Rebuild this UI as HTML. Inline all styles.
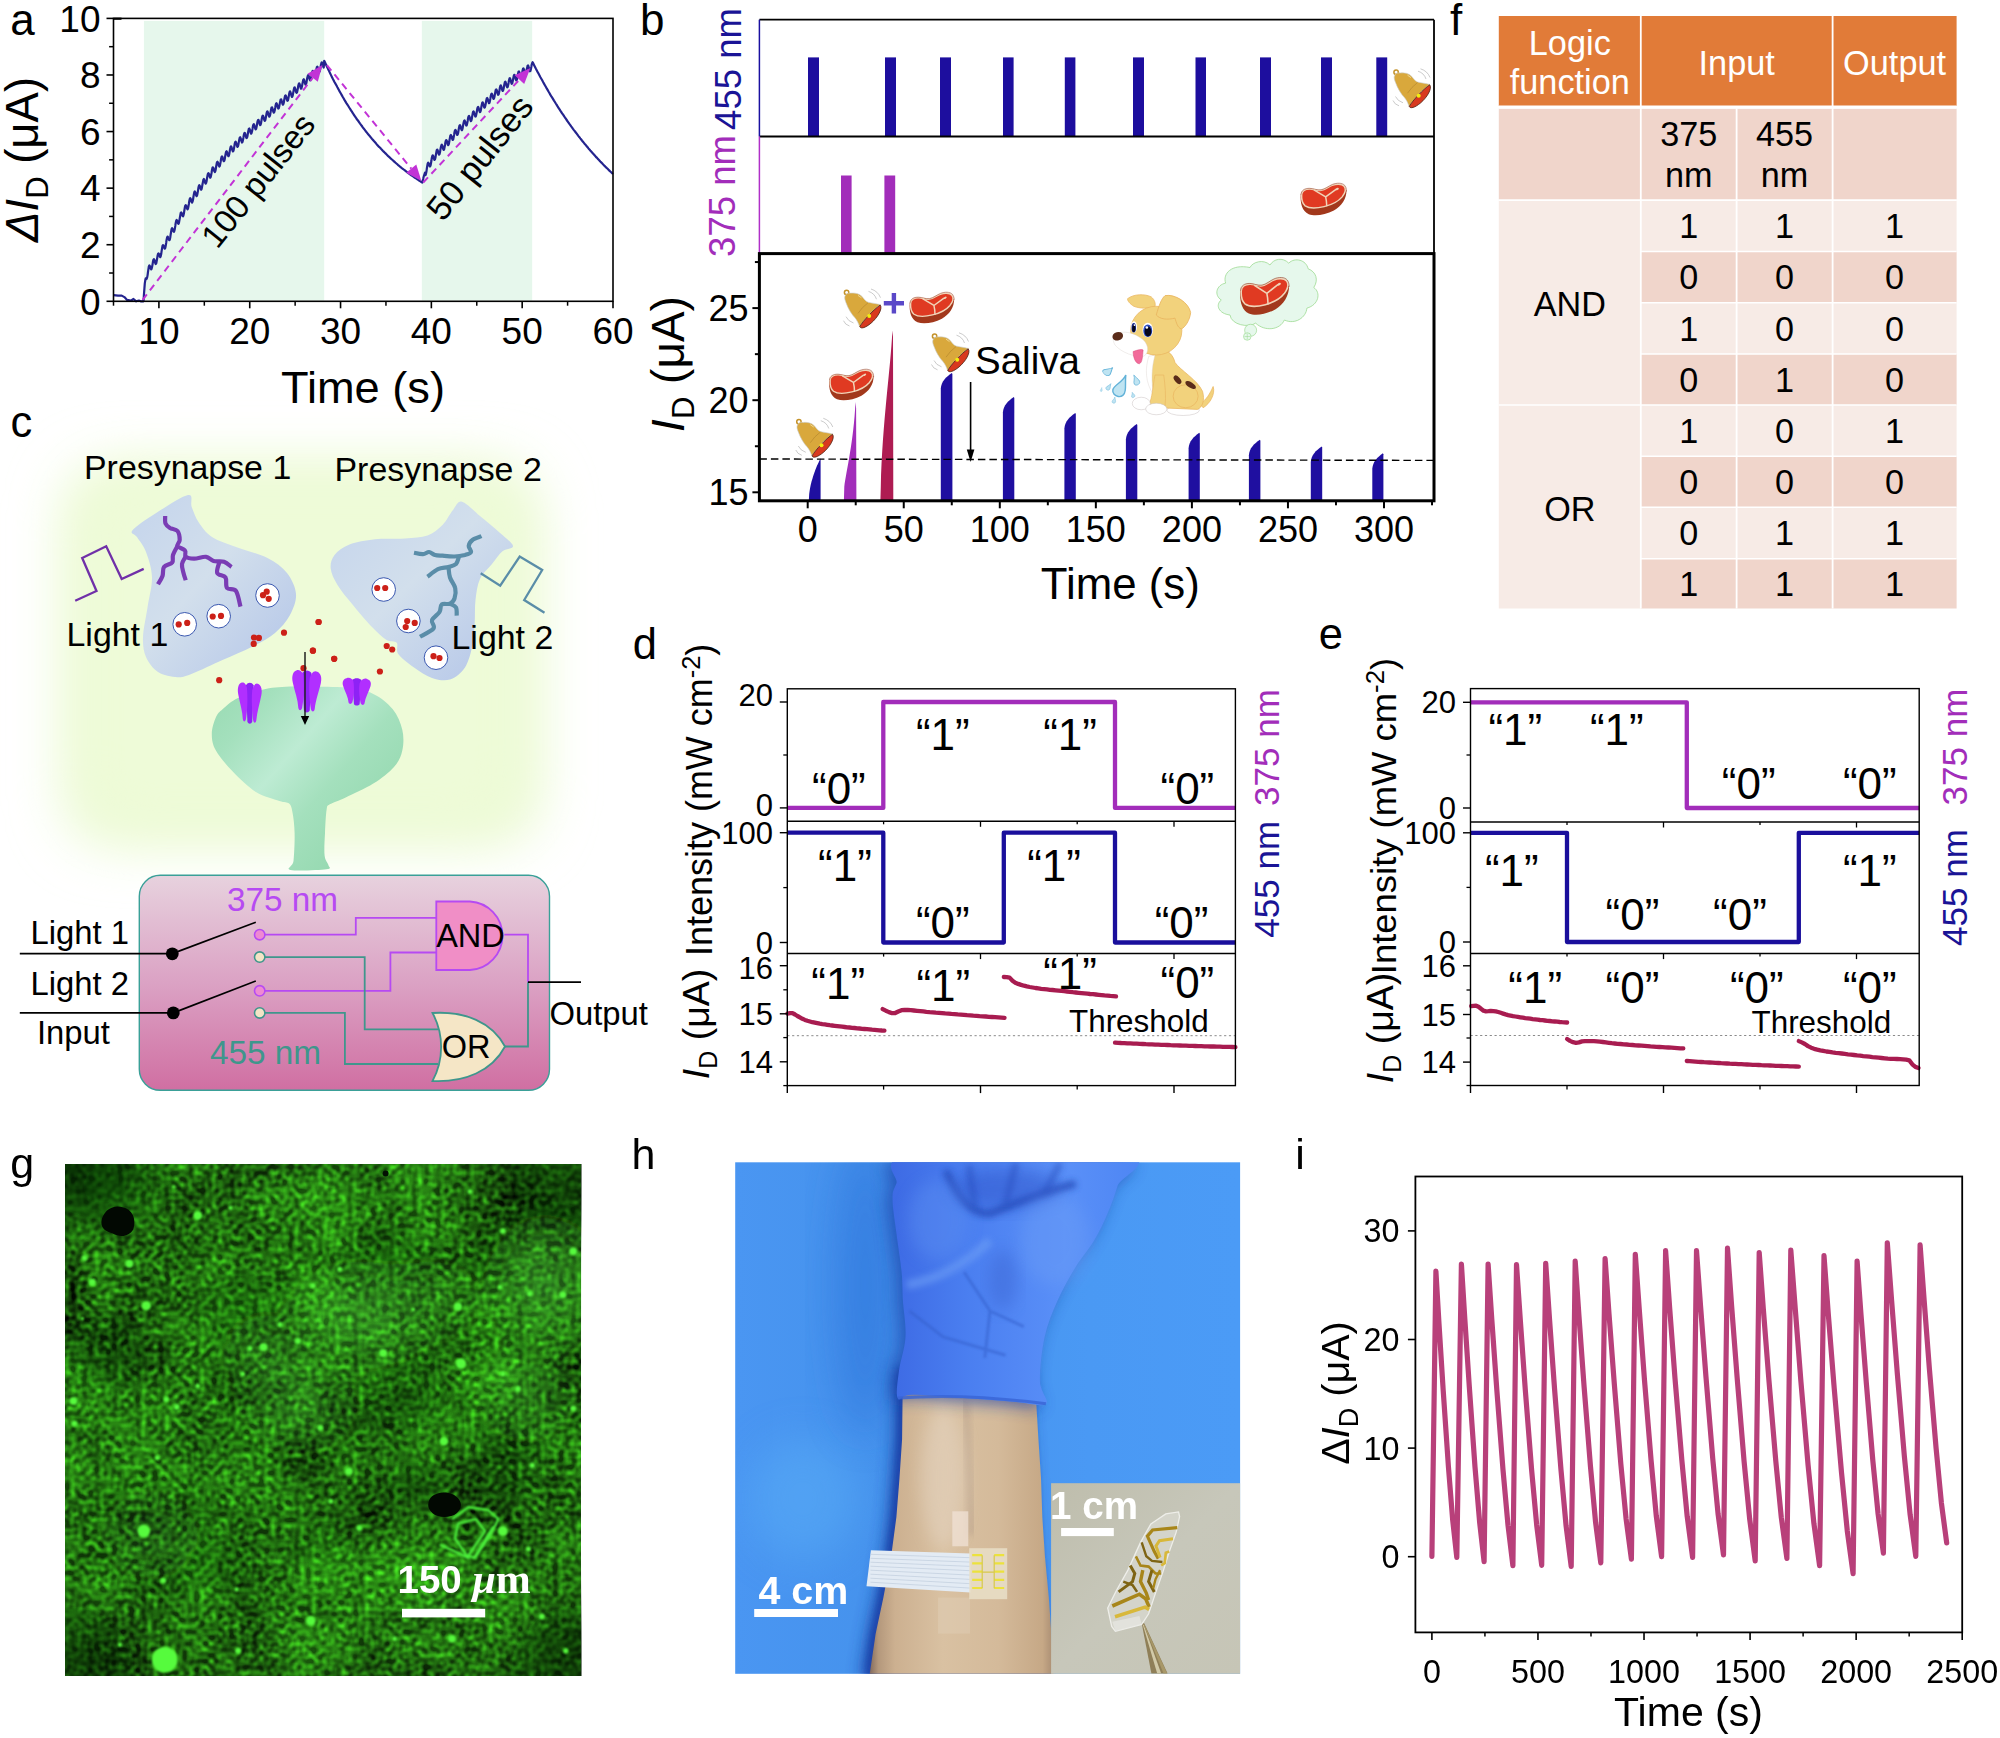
<!DOCTYPE html>
<html><head><meta charset="utf-8"><title>Figure</title>
<style>
html,body{margin:0;padding:0;background:#fff;}
body{width:2000px;height:1738px;overflow:hidden;position:relative;}
svg{position:absolute;left:0;top:0;display:block;}
text{font-family:"Liberation Sans",Arial,sans-serif;}
.it{font-style:italic;}
</style></head><body>
<svg width="2000" height="1738" viewBox="0 0 2000 1738">
<defs>

<filter id="cblur" x="-20%" y="-20%" width="140%" height="140%"><feGaussianBlur stdDeviation="26"/></filter>
<linearGradient id="preg" x1="0" y1="0" x2="1" y2="1"><stop offset="0" stop-color="#c4d4ec"/><stop offset="0.45" stop-color="#d2dfec"/><stop offset="1" stop-color="#b2c4e8"/></linearGradient>
<linearGradient id="postg" x1="0" y1="0" x2="1" y2="0.85"><stop offset="0" stop-color="#98dab2"/><stop offset="0.2" stop-color="#a4e0bd"/><stop offset="0.42" stop-color="#bdebd3"/><stop offset="0.62" stop-color="#a4e0bd"/><stop offset="1" stop-color="#8ed5aa"/></linearGradient>
<linearGradient id="boxg" x1="0" y1="0" x2="0" y2="1"><stop offset="0" stop-color="#e7d2de"/><stop offset="0.5" stop-color="#dba2c4"/><stop offset="1" stop-color="#d06fa2"/></linearGradient>


<filter id="gnoise" x="0" y="0" width="100%" height="100%" color-interpolation-filters="sRGB">
 <feTurbulence type="fractalNoise" baseFrequency="0.011" numOctaves="3" seed="7" result="lo"/>
 <feColorMatrix in="lo" type="matrix" values="0 0 0 0 0  0.45 0.45 0 0 -0.24  0 0 0 0 0  0 0 0 0 1" result="loG"/>
 <feTurbulence type="fractalNoise" baseFrequency="0.17" numOctaves="1" seed="3" result="hi"/>
 <feColorMatrix in="hi" type="matrix" values="0 0 0 0 0  0.75 0.75 0 0 -0.53  0 0 0 0 0  0 0 0 0 1" result="hiG"/>
 <feComposite in="loG" in2="hiG" operator="arithmetic" k1="0" k2="1" k3="1" k4="0" result="sum"/>
 <feColorMatrix in="sum" type="matrix" values="0 0.31 0 0 0.0  0 1 0 0 0.01  0 0.15 0 0 0  0 0 0 0 1"/>
</filter>
<filter id="gb1" x="-50%" y="-50%" width="200%" height="200%"><feGaussianBlur stdDeviation="1.1"/></filter>
<filter id="gb2" x="-50%" y="-50%" width="200%" height="200%"><feGaussianBlur stdDeviation="22"/></filter>
<clipPath id="gclip"><rect x="65.0" y="1164.4" width="516.1" height="511.2"/></clipPath>


<clipPath id="hclip"><rect x="735.2" y="1162.3" width="504.9" height="511.5"/></clipPath>
<clipPath id="insclip"><rect x="1051.1" y="1483.2" width="189" height="190.6"/></clipPath>
<filter id="hb3" x="-30%" y="-30%" width="160%" height="160%"><feGaussianBlur stdDeviation="3"/></filter>
<filter id="hb8" x="-30%" y="-30%" width="160%" height="160%"><feGaussianBlur stdDeviation="8"/></filter>
<filter id="hb20" x="-50%" y="-50%" width="200%" height="200%"><feGaussianBlur stdDeviation="20"/></filter>
<filter id="hb1" x="-30%" y="-30%" width="160%" height="160%"><feGaussianBlur stdDeviation="1"/></filter>
<linearGradient id="hbg" x1="0" y1="0" x2="1" y2="0"><stop offset="0" stop-color="#4a96f2"/><stop offset="0.3" stop-color="#4592ec"/><stop offset="0.7" stop-color="#4a99f4"/><stop offset="1" stop-color="#4b9bf6"/></linearGradient>
<linearGradient id="armg" x1="0" y1="0" x2="1" y2="0"><stop offset="0" stop-color="#80685c"/><stop offset="0.05" stop-color="#b4987c"/><stop offset="0.14" stop-color="#ccb090"/><stop offset="0.4" stop-color="#d9c1a2"/><stop offset="0.7" stop-color="#d4ba9a"/><stop offset="0.94" stop-color="#c6a886"/><stop offset="1" stop-color="#a88c72"/></linearGradient>
<linearGradient id="gloveg" x1="0" y1="0" x2="1" y2="0"><stop offset="0" stop-color="#3d6ae4"/><stop offset="0.3" stop-color="#4a7ef0"/><stop offset="0.7" stop-color="#5a90f8"/><stop offset="1" stop-color="#4e86f4"/></linearGradient>
<linearGradient id="insg" x1="0" y1="0" x2="1" y2="1"><stop offset="0" stop-color="#bebdac"/><stop offset="0.5" stop-color="#c7c7ba"/><stop offset="1" stop-color="#c6c5b6"/></linearGradient>

</defs>
<rect x="0" y="0" width="2000" height="1738" fill="#ffffff"/>
<g id="panel-a">
<rect x="143.92" y="20.90" width="180.27" height="279.70" fill="#e6f7ec" />
<rect x="421.83" y="20.90" width="110.34" height="279.70" fill="#e6f7ec" />
<path d="M113.5,295.1 L118.0,295.6 L121.7,295.6 L124.4,297.1 L127.1,299.9 L130.8,300.7 L133.5,299.0 L136.2,301.3 L138.9,300.5 L140.7,301.3 L143.5,301.3 L143.5,301.3 L143.9,295.0 L144.4,288.6 L144.8,283.3 L145.3,280.1 L145.7,278.4 L146.2,279.1 L146.6,279.0 L147.1,277.6 L147.6,275.1 L148.0,271.8 L148.5,268.6 L148.9,266.3 L149.4,265.4 L149.8,265.9 L150.3,267.3 L150.7,268.7 L151.2,269.4 L151.6,268.8 L152.1,266.8 L152.6,264.1 L153.0,261.4 L153.5,259.6 L153.9,259.1 L154.4,259.9 L154.8,261.6 L155.3,263.2 L155.7,264.0 L156.2,263.5 L156.6,261.6 L157.1,258.8 L157.5,256.1 L158.0,254.0 L158.5,253.3 L158.9,253.9 L159.4,255.2 L159.8,256.6 L160.3,257.1 L160.7,256.3 L161.2,254.1 L161.6,251.1 L162.1,248.1 L162.5,245.9 L163.0,245.1 L163.5,245.6 L163.9,246.9 L164.4,248.2 L164.8,248.7 L165.3,247.9 L165.7,245.7 L166.2,242.7 L166.6,239.7 L167.1,237.5 L167.5,236.6 L168.0,237.1 L168.4,238.4 L168.9,239.7 L169.4,240.2 L169.8,239.4 L170.3,237.2 L170.7,234.2 L171.2,231.2 L171.6,229.0 L172.1,228.2 L172.5,228.7 L173.0,230.0 L173.4,231.3 L173.9,231.9 L174.3,231.0 L174.8,228.9 L175.3,225.9 L175.7,222.9 L176.2,220.8 L176.6,220.0 L177.1,220.5 L177.5,221.9 L178.0,223.3 L178.4,223.8 L178.9,223.0 L179.3,220.9 L179.8,218.0 L180.3,215.1 L180.7,213.0 L181.2,212.3 L181.6,212.9 L182.1,214.3 L182.5,215.7 L183.0,216.3 L183.4,215.6 L183.9,213.6 L184.3,210.7 L184.8,207.8 L185.2,205.8 L185.7,205.1 L186.2,205.7 L186.6,207.1 L187.1,208.6 L187.5,209.3 L188.0,208.6 L188.4,206.5 L188.9,203.7 L189.3,200.9 L189.8,198.8 L190.2,198.2 L190.7,198.8 L191.1,200.3 L191.6,201.8 L192.1,202.5 L192.5,201.8 L193.0,199.8 L193.4,197.0 L193.9,194.2 L194.3,192.2 L194.8,191.5 L195.2,192.2 L195.7,193.7 L196.1,195.3 L196.6,196.0 L197.1,195.3 L197.5,193.4 L198.0,190.6 L198.4,187.8 L198.9,185.8 L199.3,185.2 L199.8,185.9 L200.2,187.4 L200.7,189.0 L201.1,189.7 L201.6,189.1 L202.0,187.1 L202.5,184.3 L203.0,181.6 L203.4,179.6 L203.9,179.0 L204.3,179.8 L204.8,181.3 L205.2,182.9 L205.7,183.6 L206.1,183.0 L206.6,181.1 L207.0,178.3 L207.5,175.6 L208.0,173.6 L208.4,173.1 L208.9,173.8 L209.3,175.4 L209.8,177.0 L210.2,177.7 L210.7,177.1 L211.1,175.2 L211.6,172.5 L212.0,169.8 L212.5,167.8 L212.9,167.3 L213.4,168.0 L213.9,169.6 L214.3,171.2 L214.8,172.0 L215.2,171.5 L215.7,169.6 L216.1,166.8 L216.6,164.1 L217.0,162.2 L217.5,161.7 L217.9,162.5 L218.4,164.1 L218.8,165.7 L219.3,166.5 L219.8,166.0 L220.2,164.1 L220.7,161.4 L221.1,158.7 L221.6,156.9 L222.0,156.3 L222.5,157.1 L222.9,158.8 L223.4,160.4 L223.8,161.2 L224.3,160.7 L224.8,158.9 L225.2,156.2 L225.7,153.5 L226.1,151.7 L226.6,151.2 L227.0,152.0 L227.5,153.7 L227.9,155.4 L228.4,156.2 L228.8,155.7 L229.3,153.9 L229.7,151.3 L230.2,148.6 L230.7,146.8 L231.1,146.3 L231.6,147.2 L232.0,148.9 L232.5,150.6 L232.9,151.4 L233.4,151.0 L233.8,149.2 L234.3,146.6 L234.7,143.9 L235.2,142.1 L235.7,141.7 L236.1,142.6 L236.6,144.3 L237.0,146.0 L237.5,146.9 L237.9,146.4 L238.4,144.7 L238.8,142.1 L239.3,139.4 L239.7,137.7 L240.2,137.2 L240.6,138.1 L241.1,139.8 L241.6,141.6 L242.0,142.5 L242.5,142.0 L242.9,140.3 L243.4,137.7 L243.8,135.1 L244.3,133.3 L244.7,132.9 L245.2,133.8 L245.6,135.5 L246.1,137.2 L246.5,138.1 L247.0,137.7 L247.5,135.9 L247.9,133.3 L248.4,130.7 L248.8,128.9 L249.3,128.5 L249.7,129.4 L250.2,131.1 L250.6,132.8 L251.1,133.7 L251.5,133.3 L252.0,131.5 L252.5,128.9 L252.9,126.3 L253.4,124.6 L253.8,124.1 L254.3,125.0 L254.7,126.8 L255.2,128.5 L255.6,129.4 L256.1,129.0 L256.5,127.2 L257.0,124.6 L257.4,122.0 L257.9,120.3 L258.4,119.8 L258.8,120.7 L259.3,122.5 L259.7,124.2 L260.2,125.1 L260.6,124.7 L261.1,122.9 L261.5,120.3 L262.0,117.8 L262.4,116.0 L262.9,115.6 L263.4,116.5 L263.8,118.2 L264.3,120.0 L264.7,120.9 L265.2,120.5 L265.6,118.7 L266.1,116.1 L266.5,113.6 L267.0,111.8 L267.4,111.4 L267.9,112.3 L268.3,114.1 L268.8,115.8 L269.3,116.7 L269.7,116.3 L270.2,114.6 L270.6,112.0 L271.1,109.4 L271.5,107.7 L272.0,107.3 L272.4,108.2 L272.9,109.9 L273.3,111.7 L273.8,112.6 L274.2,112.2 L274.7,110.5 L275.2,107.9 L275.6,105.3 L276.1,103.6 L276.5,103.2 L277.0,104.2 L277.4,105.9 L277.9,107.7 L278.3,108.6 L278.8,108.2 L279.2,106.5 L279.7,103.9 L280.2,101.4 L280.6,99.7 L281.1,99.3 L281.5,100.2 L282.0,102.0 L282.4,103.8 L282.9,104.7 L283.3,104.3 L283.8,102.6 L284.2,100.0 L284.7,97.5 L285.1,95.8 L285.6,95.4 L286.1,96.3 L286.5,98.1 L287.0,99.9 L287.4,100.8 L287.9,100.4 L288.3,98.7 L288.8,96.1 L289.2,93.6 L289.7,91.8 L290.1,91.4 L290.6,92.4 L291.0,94.2 L291.5,95.9 L292.0,96.9 L292.4,96.5 L292.9,94.7 L293.3,92.2 L293.8,89.6 L294.2,87.9 L294.7,87.4 L295.1,88.4 L295.6,90.1 L296.0,91.9 L296.5,92.8 L297.0,92.4 L297.4,90.7 L297.9,88.1 L298.3,85.5 L298.8,83.8 L299.2,83.4 L299.7,84.3 L300.1,86.0 L300.6,87.8 L301.0,88.7 L301.5,88.3 L301.9,86.6 L302.4,84.0 L302.9,81.4 L303.3,79.7 L303.8,79.2 L304.2,80.2 L304.7,81.9 L305.1,83.7 L305.6,84.6 L306.0,84.2 L306.5,82.4 L306.9,79.8 L307.4,77.2 L307.9,75.5 L308.3,75.1 L308.8,76.0 L309.2,77.7 L309.7,79.5 L310.1,80.4 L310.6,80.0 L311.0,78.2 L311.5,75.6 L311.9,73.0 L312.4,71.3 L312.8,70.9 L313.3,71.8 L313.8,73.5 L314.2,75.3 L314.7,76.2 L315.1,75.7 L315.6,74.0 L316.0,71.4 L316.5,68.8 L316.9,67.0 L317.4,66.6 L317.8,67.5 L318.3,69.3 L318.7,71.0 L319.2,71.9 L319.7,71.5 L320.1,69.7 L320.6,67.1 L321.0,64.5 L321.5,62.8 L321.9,62.3 L322.4,63.2 L322.8,65.0 L323.3,66.7 L323.7,67.6 L324.2,60.8 L324.7,61.8 L325.6,63.8 L326.5,65.7 L327.4,67.6 L328.3,69.5 L329.2,71.4 L330.1,73.2 L331.0,75.1 L331.9,76.9 L332.8,78.7 L333.7,80.4 L334.6,82.2 L335.6,83.9 L336.5,85.6 L337.4,87.3 L338.3,88.9 L339.2,90.6 L340.1,92.2 L341.0,93.8 L341.9,95.4 L342.8,97.0 L343.7,98.5 L344.6,100.1 L345.5,101.6 L346.4,103.1 L347.4,104.6 L348.3,106.0 L349.2,107.5 L350.1,108.9 L351.0,110.3 L351.9,111.7 L352.8,113.1 L353.7,114.5 L354.6,115.8 L355.5,117.1 L356.4,118.5 L357.3,119.8 L358.3,121.0 L359.2,122.3 L360.1,123.6 L361.0,124.8 L361.9,126.0 L362.8,127.3 L363.7,128.5 L364.6,129.6 L365.5,130.8 L366.4,132.0 L367.3,133.1 L368.2,134.3 L369.2,135.4 L370.1,136.5 L371.0,137.6 L371.9,138.7 L372.8,139.7 L373.7,140.8 L374.6,141.8 L375.5,142.8 L376.4,143.9 L377.3,144.9 L378.2,145.9 L379.1,146.9 L380.1,147.8 L381.0,148.8 L381.9,149.7 L382.8,150.7 L383.7,151.6 L384.6,152.5 L385.5,153.4 L386.4,154.3 L387.3,155.2 L388.2,156.1 L389.1,156.9 L390.0,157.8 L390.9,158.7 L391.9,159.5 L392.8,160.3 L393.7,161.1 L394.6,161.9 L395.5,162.7 L396.4,163.5 L397.3,164.3 L398.2,165.1 L399.1,165.8 L400.0,166.6 L400.9,167.3 L401.8,168.1 L402.8,168.8 L403.7,169.5 L404.6,170.2 L405.5,170.9 L406.4,171.6 L407.3,172.3 L408.2,173.0 L409.1,173.6 L410.0,174.3 L410.9,175.0 L411.8,175.6 L412.7,176.2 L413.7,176.9 L414.6,177.5 L415.5,178.1 L416.4,178.7 L417.3,179.3 L418.2,179.9 L419.1,180.5 L420.0,181.1 L420.9,181.7 L421.8,182.2 L422.3,182.5 L422.7,180.7 L423.2,178.8 L423.6,177.0 L424.1,175.3 L424.6,173.8 L425.0,172.6 L425.5,175.1 L425.9,174.1 L426.4,171.8 L426.8,168.8 L427.3,165.7 L427.7,163.5 L428.2,162.7 L428.6,163.2 L429.1,164.5 L429.5,165.9 L430.0,166.5 L430.5,165.7 L430.9,163.7 L431.4,160.8 L431.8,158.0 L432.3,156.0 L432.7,155.3 L433.2,156.0 L433.6,157.6 L434.1,159.1 L434.5,159.9 L435.0,159.3 L435.5,157.4 L435.9,154.7 L436.4,152.0 L436.8,150.1 L437.3,149.6 L437.7,150.4 L438.2,152.1 L438.6,153.7 L439.1,154.6 L439.5,154.1 L440.0,152.3 L440.4,149.6 L440.9,147.0 L441.4,145.2 L441.8,144.7 L442.3,145.6 L442.7,147.3 L443.2,149.0 L443.6,149.9 L444.1,149.4 L444.5,147.6 L445.0,145.0 L445.4,142.3 L445.9,140.5 L446.3,140.1 L446.8,140.9 L447.3,142.6 L447.7,144.3 L448.2,145.1 L448.6,144.6 L449.1,142.7 L449.5,140.0 L450.0,137.4 L450.4,135.5 L450.9,135.0 L451.3,135.8 L451.8,137.4 L452.3,139.1 L452.7,139.9 L453.2,139.4 L453.6,137.6 L454.1,134.9 L454.5,132.2 L455.0,130.4 L455.4,129.9 L455.9,130.7 L456.3,132.4 L456.8,134.1 L457.2,134.9 L457.7,134.4 L458.2,132.6 L458.6,130.0 L459.1,127.3 L459.5,125.5 L460.0,125.1 L460.4,125.9 L460.9,127.6 L461.3,129.3 L461.8,130.2 L462.2,129.7 L462.7,127.9 L463.1,125.3 L463.6,122.7 L464.1,120.9 L464.5,120.4 L465.0,121.3 L465.4,123.0 L465.9,124.7 L466.3,125.6 L466.8,125.1 L467.2,123.3 L467.7,120.7 L468.1,118.1 L468.6,116.3 L469.1,115.9 L469.5,116.7 L470.0,118.5 L470.4,120.2 L470.9,121.1 L471.3,120.6 L471.8,118.8 L472.2,116.2 L472.7,113.6 L473.1,111.8 L473.6,111.4 L474.0,112.3 L474.5,114.0 L475.0,115.7 L475.4,116.6 L475.9,116.1 L476.3,114.4 L476.8,111.8 L477.2,109.1 L477.7,107.4 L478.1,106.9 L478.6,107.8 L479.0,109.5 L479.5,111.2 L480.0,112.1 L480.4,111.7 L480.9,109.9 L481.3,107.3 L481.8,104.7 L482.2,102.9 L482.7,102.4 L483.1,103.3 L483.6,105.0 L484.0,106.8 L484.5,107.6 L484.9,107.2 L485.4,105.4 L485.9,102.8 L486.3,100.2 L486.8,98.4 L487.2,98.0 L487.7,98.9 L488.1,100.6 L488.6,102.3 L489.0,103.2 L489.5,102.8 L489.9,101.0 L490.4,98.4 L490.8,95.8 L491.3,94.0 L491.8,93.6 L492.2,94.5 L492.7,96.3 L493.1,98.0 L493.6,98.9 L494.0,98.5 L494.5,96.7 L494.9,94.2 L495.4,91.6 L495.8,89.8 L496.3,89.4 L496.8,90.3 L497.2,92.1 L497.7,93.9 L498.1,94.8 L498.6,94.4 L499.0,92.7 L499.5,90.1 L499.9,87.5 L500.4,85.8 L500.8,85.4 L501.3,86.4 L501.7,88.2 L502.2,89.9 L502.7,90.9 L503.1,90.5 L503.6,88.8 L504.0,86.3 L504.5,83.8 L504.9,82.1 L505.4,81.7 L505.8,82.7 L506.3,84.5 L506.7,86.3 L507.2,87.3 L507.7,86.9 L508.1,85.2 L508.6,82.7 L509.0,80.2 L509.5,78.5 L509.9,78.2 L510.4,79.2 L510.8,81.0 L511.3,82.8 L511.7,83.8 L512.2,83.4 L512.6,81.8 L513.1,79.3 L513.6,76.8 L514.0,75.1 L514.5,74.8 L514.9,75.8 L515.4,77.6 L515.8,79.4 L516.3,80.4 L516.7,80.1 L517.2,78.4 L517.6,76.0 L518.1,73.5 L518.5,71.8 L519.0,71.5 L519.5,72.5 L519.9,74.4 L520.4,76.2 L520.8,77.2 L521.3,76.9 L521.7,75.3 L522.2,72.8 L522.6,70.3 L523.1,68.7 L523.5,68.4 L524.0,69.4 L524.5,71.3 L524.9,73.2 L525.4,74.2 L525.8,73.9 L526.3,72.3 L526.7,69.8 L527.2,67.4 L527.6,65.8 L528.1,65.5 L528.5,66.5 L529.0,68.4 L529.4,70.3 L529.9,71.3 L530.4,71.1 L530.8,69.5 L531.3,67.0 L531.7,64.6 L532.2,63.0 L532.6,62.2 L533.1,63.1 L534.0,64.9 L534.9,66.7 L535.8,68.5 L536.7,70.2 L537.6,71.9 L538.5,73.6 L539.4,75.3 L540.3,77.0 L541.3,78.7 L542.2,80.3 L543.1,82.0 L544.0,83.6 L544.9,85.2 L545.8,86.8 L546.7,88.4 L547.6,89.9 L548.5,91.5 L549.4,93.0 L550.3,94.6 L551.2,96.1 L552.2,97.6 L553.1,99.1 L554.0,100.6 L554.9,102.0 L555.8,103.5 L556.7,104.9 L557.6,106.4 L558.5,107.8 L559.4,109.2 L560.3,110.6 L561.2,112.0 L562.1,113.3 L563.1,114.7 L564.0,116.0 L564.9,117.4 L565.8,118.7 L566.7,120.0 L567.6,121.3 L568.5,122.6 L569.4,123.9 L570.3,125.1 L571.2,126.4 L572.1,127.6 L573.0,128.9 L573.9,130.1 L574.9,131.3 L575.8,132.5 L576.7,133.7 L577.6,134.9 L578.5,136.1 L579.4,137.2 L580.3,138.4 L581.2,139.5 L582.1,140.7 L583.0,141.8 L583.9,142.9 L584.8,144.0 L585.8,145.1 L586.7,146.2 L587.6,147.3 L588.5,148.4 L589.4,149.4 L590.3,150.5 L591.2,151.5 L592.1,152.5 L593.0,153.6 L593.9,154.6 L594.8,155.6 L595.7,156.6 L596.7,157.6 L597.6,158.6 L598.5,159.5 L599.4,160.5 L600.3,161.5 L601.2,162.4 L602.1,163.3 L603.0,164.3 L603.9,165.2 L604.8,166.1 L605.7,167.0 L606.6,167.9 L607.6,168.8 L608.5,169.7 L609.4,170.6 L610.3,171.5 L611.2,172.3 L612.1,173.2 L613.0,174.0" fill="none" stroke="#24248f" stroke-width="2.2" stroke-linejoin="round"/>
<line x1="142.6" y1="299.9" x2="312.7" y2="77.8" stroke="#c233d6" stroke-width="2" stroke-dasharray="7 5"/><polygon points="322.4,65.1 317.8,81.7 307.5,73.8" fill="#c233d6"/>
<line x1="326.9" y1="65.1" x2="411.3" y2="168.7" stroke="#c233d6" stroke-width="2" stroke-dasharray="7 5"/><polygon points="421.4,181.1 406.2,172.8 416.3,164.6" fill="#c233d6"/>
<line x1="423.2" y1="182.5" x2="519.4" y2="79.6" stroke="#c233d6" stroke-width="2" stroke-dasharray="7 5"/><polygon points="530.4,67.9 524.2,84.0 514.7,75.2" fill="#c233d6"/>
<rect x="113.50" y="18.40" width="499.50" height="282.90" fill="none" stroke="#000" stroke-width="1.6" />
<line x1="106.50" y1="301.30" x2="113.50" y2="301.30" stroke="#000" stroke-width="1.6" />
<text x="100.5" y="314.5" font-size="37" text-anchor="end" >0</text>
<line x1="109.10" y1="273.01" x2="113.50" y2="273.01" stroke="#000" stroke-width="1.5" />
<line x1="106.50" y1="244.72" x2="113.50" y2="244.72" stroke="#000" stroke-width="1.6" />
<text x="100.5" y="257.92" font-size="37" text-anchor="end" >2</text>
<line x1="109.10" y1="216.43" x2="113.50" y2="216.43" stroke="#000" stroke-width="1.5" />
<line x1="106.50" y1="188.14" x2="113.50" y2="188.14" stroke="#000" stroke-width="1.6" />
<text x="100.5" y="201.33999999999997" font-size="37" text-anchor="end" >4</text>
<line x1="109.10" y1="159.85" x2="113.50" y2="159.85" stroke="#000" stroke-width="1.5" />
<line x1="106.50" y1="131.56" x2="113.50" y2="131.56" stroke="#000" stroke-width="1.6" />
<text x="100.5" y="144.76" font-size="37" text-anchor="end" >6</text>
<line x1="109.10" y1="103.27" x2="113.50" y2="103.27" stroke="#000" stroke-width="1.5" />
<line x1="106.50" y1="74.98" x2="113.50" y2="74.98" stroke="#000" stroke-width="1.6" />
<text x="100.5" y="88.17999999999999" font-size="37" text-anchor="end" >8</text>
<line x1="109.10" y1="46.69" x2="113.50" y2="46.69" stroke="#000" stroke-width="1.5" />
<line x1="106.50" y1="18.40" x2="113.50" y2="18.40" stroke="#000" stroke-width="1.6" />
<text x="100.5" y="31.599999999999977" font-size="37" text-anchor="end" >10</text>
<line x1="113.50" y1="18.70" x2="121.50" y2="18.70" stroke="#000" stroke-width="2.2" />
<line x1="113.50" y1="301.30" x2="113.50" y2="305.70" stroke="#000" stroke-width="1.5" />
<line x1="158.91" y1="301.30" x2="158.91" y2="308.30" stroke="#000" stroke-width="1.6" />
<text x="158.9090909090909" y="344.1" font-size="37" text-anchor="middle" >10</text>
<line x1="204.32" y1="301.30" x2="204.32" y2="305.70" stroke="#000" stroke-width="1.5" />
<line x1="249.73" y1="301.30" x2="249.73" y2="308.30" stroke="#000" stroke-width="1.6" />
<text x="249.72727272727272" y="344.1" font-size="37" text-anchor="middle" >20</text>
<line x1="295.14" y1="301.30" x2="295.14" y2="305.70" stroke="#000" stroke-width="1.5" />
<line x1="340.55" y1="301.30" x2="340.55" y2="308.30" stroke="#000" stroke-width="1.6" />
<text x="340.5454545454545" y="344.1" font-size="37" text-anchor="middle" >30</text>
<line x1="385.95" y1="301.30" x2="385.95" y2="305.70" stroke="#000" stroke-width="1.5" />
<line x1="431.36" y1="301.30" x2="431.36" y2="308.30" stroke="#000" stroke-width="1.6" />
<text x="431.3636363636364" y="344.1" font-size="37" text-anchor="middle" >40</text>
<line x1="476.77" y1="301.30" x2="476.77" y2="305.70" stroke="#000" stroke-width="1.5" />
<line x1="522.18" y1="301.30" x2="522.18" y2="308.30" stroke="#000" stroke-width="1.6" />
<text x="522.1818181818182" y="344.1" font-size="37" text-anchor="middle" >50</text>
<line x1="567.59" y1="301.30" x2="567.59" y2="305.70" stroke="#000" stroke-width="1.5" />
<line x1="613.00" y1="301.30" x2="613.00" y2="308.30" stroke="#000" stroke-width="1.6" />
<text x="613.0" y="344.1" font-size="37" text-anchor="middle" >60</text>
<text x="363" y="403.1" font-size="45.2" text-anchor="middle" >Time (s)</text>
<text transform="translate(38 159.5) rotate(-90)" font-size="45.5" text-anchor="middle"><tspan class="it">ΔI</tspan><tspan font-size="31" dy="10">D</tspan><tspan dy="-10"> (μA)</tspan></text>
<text x="267" y="187.5" font-size="33" text-anchor="middle" transform="rotate(-51.5 267 187.5)" >100 pulses</text>
<text x="489" y="165" font-size="34.5" text-anchor="middle" transform="rotate(-51.5 489 165)" >50 pulses</text>
<text x="10.3" y="35.4" font-size="44" >a</text>
</g>
<g id="panel-b">
<rect x="808.00" y="57.40" width="11.00" height="79.10" fill="#1d0e9e" />
<rect x="885.00" y="57.40" width="11.00" height="79.10" fill="#1d0e9e" />
<rect x="940.00" y="57.40" width="11.00" height="79.10" fill="#1d0e9e" />
<rect x="1003.00" y="57.40" width="10.60" height="79.10" fill="#1d0e9e" />
<rect x="1064.80" y="57.40" width="10.60" height="79.10" fill="#1d0e9e" />
<rect x="1133.00" y="57.40" width="11.00" height="79.10" fill="#1d0e9e" />
<rect x="1195.50" y="57.40" width="10.50" height="79.10" fill="#1d0e9e" />
<rect x="1260.00" y="57.40" width="11.00" height="79.10" fill="#1d0e9e" />
<rect x="1321.00" y="57.40" width="11.00" height="79.10" fill="#1d0e9e" />
<rect x="1376.30" y="57.40" width="10.90" height="79.10" fill="#1d0e9e" />
<rect x="841.00" y="175.50" width="10.60" height="78.10" fill="#a22dba" />
<rect x="884.40" y="175.50" width="10.80" height="78.10" fill="#a22dba" />
<path d="M808.8,500.8 L808.8,500.8 L809.2,494.1 L809.6,491.0 L810.0,488.6 L810.4,486.5 L810.8,484.6 L811.2,482.9 L811.6,481.3 L812.1,479.8 L812.5,478.4 L812.9,477.1 L813.3,475.8 L813.7,474.6 L814.1,473.4 L814.5,472.3 L814.9,471.2 L815.3,470.1 L815.7,469.0 L816.1,468.0 L816.5,467.0 L816.9,466.1 L817.3,465.1 L817.8,464.2 L818.2,463.3 L818.6,462.4 L819.0,461.5 L819.4,460.7 L819.8,459.8 L820.2,459.0 L820.6,458.2 L820.6,500.8 Z" fill="#1f0fa0"/>
<path d="M843.9,500.8 L844.3,486.8 C846.5,470.0 853.6,442.0 855.5,402.0 L856.1,408.0 L856.4,500.8 Z" fill="#a22dba"/>
<path d="M880.4,500.8 L880.8,486.8 C882.5,420.0 890.5,370.5 892.4,330.5 L893.0,336.5 L893.3,500.8 Z" fill="#ae1c52"/>
<path d="M940.8,500.8 L940.8,388.5 C941.3,381.5 945.8,377.0 951.9,373.0 L952.4,374.0 L952.4,500.8 Z" fill="#1f0fa0"/>
<path d="M1002.9,500.8 L1002.9,412.6 C1003.4,405.6 1007.9,401.1 1013.8,397.1 L1014.3,398.1 L1014.3,500.8 Z" fill="#1f0fa0"/>
<path d="M1064.4,500.8 L1064.4,428.5 C1064.9,421.5 1069.4,417.0 1075.3,413.0 L1075.8,414.0 L1075.8,500.8 Z" fill="#1f0fa0"/>
<path d="M1125.9,500.8 L1125.9,439.6 C1126.4,432.6 1130.9,428.1 1136.8,424.1 L1137.3,425.1 L1137.3,500.8 Z" fill="#1f0fa0"/>
<path d="M1188.6,500.8 L1188.6,448.2 C1189.1,441.2 1193.6,436.7 1199.3,432.7 L1199.8,433.7 L1199.8,500.8 Z" fill="#1f0fa0"/>
<path d="M1248.9,500.8 L1248.9,455.2 C1249.4,448.2 1253.9,443.7 1259.9,439.7 L1260.4,440.7 L1260.4,500.8 Z" fill="#1f0fa0"/>
<path d="M1310.8,500.8 L1310.8,462.1 C1311.3,455.1 1315.8,450.6 1321.7,446.6 L1322.2,447.6 L1322.2,500.8 Z" fill="#1f0fa0"/>
<path d="M1372.3,500.8 L1372.3,468.7 C1372.8,461.7 1377.3,457.2 1382.9,453.2 L1383.4,454.2 L1383.4,500.8 Z" fill="#1f0fa0"/>
<line x1="759.40" y1="459.00" x2="1434.00" y2="460.40" stroke="#000" stroke-width="1.4" stroke-dasharray="7.5 4"/>
<line x1="759.40" y1="19.70" x2="1434.00" y2="19.70" stroke="#000" stroke-width="1.8" />
<line x1="1434.00" y1="19.70" x2="1434.00" y2="253.60" stroke="#000" stroke-width="1.8" />
<line x1="759.40" y1="136.50" x2="1434.00" y2="136.50" stroke="#000" stroke-width="1.8" />
<line x1="759.40" y1="19.70" x2="759.40" y2="136.50" stroke="#1a10a0" stroke-width="1.5" />
<line x1="759.40" y1="136.50" x2="759.40" y2="253.60" stroke="#b030c8" stroke-width="1.5" />
<rect x="759.40" y="253.60" width="674.60" height="247.20" fill="none" stroke="#000" stroke-width="3" />
<line x1="752.40" y1="492.30" x2="759.40" y2="492.30" stroke="#000" stroke-width="2" />
<text x="748.5" y="505.1" font-size="36" text-anchor="end" >15</text>
<line x1="752.40" y1="400.20" x2="759.40" y2="400.20" stroke="#000" stroke-width="2" />
<text x="748.5" y="413.0" font-size="36" text-anchor="end" >20</text>
<line x1="752.40" y1="308.10" x2="759.40" y2="308.10" stroke="#000" stroke-width="2" />
<text x="748.5" y="320.90000000000003" font-size="36" text-anchor="end" >25</text>
<line x1="754.90" y1="446.25" x2="759.40" y2="446.25" stroke="#000" stroke-width="2" />
<line x1="754.90" y1="354.15" x2="759.40" y2="354.15" stroke="#000" stroke-width="2" />
<line x1="754.90" y1="262.05" x2="759.40" y2="262.05" stroke="#000" stroke-width="2" />
<line x1="807.70" y1="500.80" x2="807.70" y2="508.30" stroke="#000" stroke-width="2" />
<text x="807.7" y="541.8" font-size="36" text-anchor="middle" >0</text>
<line x1="903.75" y1="500.80" x2="903.75" y2="508.30" stroke="#000" stroke-width="2" />
<text x="903.75" y="541.8" font-size="36" text-anchor="middle" >50</text>
<line x1="999.80" y1="500.80" x2="999.80" y2="508.30" stroke="#000" stroke-width="2" />
<text x="999.8000000000001" y="541.8" font-size="36" text-anchor="middle" >100</text>
<line x1="1095.85" y1="500.80" x2="1095.85" y2="508.30" stroke="#000" stroke-width="2" />
<text x="1095.8500000000001" y="541.8" font-size="36" text-anchor="middle" >150</text>
<line x1="1191.90" y1="500.80" x2="1191.90" y2="508.30" stroke="#000" stroke-width="2" />
<text x="1191.9" y="541.8" font-size="36" text-anchor="middle" >200</text>
<line x1="1287.95" y1="500.80" x2="1287.95" y2="508.30" stroke="#000" stroke-width="2" />
<text x="1287.95" y="541.8" font-size="36" text-anchor="middle" >250</text>
<line x1="1384.00" y1="500.80" x2="1384.00" y2="508.30" stroke="#000" stroke-width="2" />
<text x="1384.0" y="541.8" font-size="36" text-anchor="middle" >300</text>
<line x1="855.73" y1="500.80" x2="855.73" y2="505.30" stroke="#000" stroke-width="2" />
<line x1="951.78" y1="500.80" x2="951.78" y2="505.30" stroke="#000" stroke-width="2" />
<line x1="1047.83" y1="500.80" x2="1047.83" y2="505.30" stroke="#000" stroke-width="2" />
<line x1="1143.88" y1="500.80" x2="1143.88" y2="505.30" stroke="#000" stroke-width="2" />
<line x1="1239.93" y1="500.80" x2="1239.93" y2="505.30" stroke="#000" stroke-width="2" />
<line x1="1335.97" y1="500.80" x2="1335.97" y2="505.30" stroke="#000" stroke-width="2" />
<line x1="1432.03" y1="500.80" x2="1432.03" y2="505.30" stroke="#000" stroke-width="2" />
<text x="1120.3" y="599.4" font-size="43.8" text-anchor="middle" >Time (s)</text>
<text transform="translate(684 364) rotate(-90)" font-size="46" text-anchor="middle"><tspan class="it">I</tspan><tspan font-size="31" dy="10">D</tspan><tspan dy="-10"> (μA)</tspan></text>
<text transform="translate(740.5 69) rotate(-90)" font-size="36.5" text-anchor="middle" fill="#1a1496">455 nm</text>
<text transform="translate(735 196) rotate(-90)" font-size="36.5" text-anchor="middle" fill="#a22dba">375 nm</text>
<text x="640" y="35.4" font-size="44" >b</text>
<text x="975" y="374.3" font-size="38.5" >Saliva</text>
<line x1="970.60" y1="382.00" x2="970.60" y2="452.00" stroke="#000" stroke-width="1.6" />
<polygon points="970.6,462 966.8,449.5 974.4,449.5" fill="#000"/>
<g transform="translate(795.3 417.5) scale(1.0)"><path d="M28,0.8 Q35,3 37.5,9.5 M25.5,3.2 Q31.5,5 33.5,11 M0.5,32.5 Q2,36.5 6.5,37.8 M3,28.5 Q5,33 10.5,34.8" fill="none" stroke="#a8a8a8" stroke-width="0.6"/><circle cx="3.6" cy="4.3" r="2.2" fill="#fff" stroke="#c4922a" stroke-width="1.5"/><path d="M1.8,8.4 C2.5,5.5 5,4.6 8,4.9 C12,4.6 16,5.2 19,8.2 C21,10.5 22.5,13 25,14 C29,15.2 33.5,15.2 37.4,16.4 C32,20 21,31 16.6,38.6 C15.5,35 14,32 11.5,29 C8.5,26 5,20 3,14.5 C2,12 1.4,10 1.8,8.4 Z" fill="#d9a83c" stroke="#c9ced2" stroke-width="0.6"/><path d="M37.2,16.8 C40,20.5 34.5,29.5 28,35 C22.5,39.6 17.8,41 16.8,38.4 C20,32.5 31,21 37.2,16.8 Z" fill="#d8391f" stroke="#4a2010" stroke-width="0.8"/><path d="M25,14.6 Q19,19 15,25.2" fill="none" stroke="#a87c28" stroke-width="0.5"/><path d="M15,7.2 L18.5,9.6" fill="none" stroke="#f6e6b0" stroke-width="0.7"/><circle cx="26.2" cy="27.8" r="2.0" fill="#f2ee10"/></g>
<g transform="translate(843.0 288.2) scale(1.0)"><path d="M28,0.8 Q35,3 37.5,9.5 M25.5,3.2 Q31.5,5 33.5,11 M0.5,32.5 Q2,36.5 6.5,37.8 M3,28.5 Q5,33 10.5,34.8" fill="none" stroke="#a8a8a8" stroke-width="0.6"/><circle cx="3.6" cy="4.3" r="2.2" fill="#fff" stroke="#c4922a" stroke-width="1.5"/><path d="M1.8,8.4 C2.5,5.5 5,4.6 8,4.9 C12,4.6 16,5.2 19,8.2 C21,10.5 22.5,13 25,14 C29,15.2 33.5,15.2 37.4,16.4 C32,20 21,31 16.6,38.6 C15.5,35 14,32 11.5,29 C8.5,26 5,20 3,14.5 C2,12 1.4,10 1.8,8.4 Z" fill="#d9a83c" stroke="#c9ced2" stroke-width="0.6"/><path d="M37.2,16.8 C40,20.5 34.5,29.5 28,35 C22.5,39.6 17.8,41 16.8,38.4 C20,32.5 31,21 37.2,16.8 Z" fill="#d8391f" stroke="#4a2010" stroke-width="0.8"/><path d="M25,14.6 Q19,19 15,25.2" fill="none" stroke="#a87c28" stroke-width="0.5"/><path d="M15,7.2 L18.5,9.6" fill="none" stroke="#f6e6b0" stroke-width="0.7"/><circle cx="26.2" cy="27.8" r="2.0" fill="#f2ee10"/></g>
<g transform="translate(931.0 332.0) scale(1.0)"><path d="M28,0.8 Q35,3 37.5,9.5 M25.5,3.2 Q31.5,5 33.5,11 M0.5,32.5 Q2,36.5 6.5,37.8 M3,28.5 Q5,33 10.5,34.8" fill="none" stroke="#a8a8a8" stroke-width="0.6"/><circle cx="3.6" cy="4.3" r="2.2" fill="#fff" stroke="#c4922a" stroke-width="1.5"/><path d="M1.8,8.4 C2.5,5.5 5,4.6 8,4.9 C12,4.6 16,5.2 19,8.2 C21,10.5 22.5,13 25,14 C29,15.2 33.5,15.2 37.4,16.4 C32,20 21,31 16.6,38.6 C15.5,35 14,32 11.5,29 C8.5,26 5,20 3,14.5 C2,12 1.4,10 1.8,8.4 Z" fill="#d9a83c" stroke="#c9ced2" stroke-width="0.6"/><path d="M37.2,16.8 C40,20.5 34.5,29.5 28,35 C22.5,39.6 17.8,41 16.8,38.4 C20,32.5 31,21 37.2,16.8 Z" fill="#d8391f" stroke="#4a2010" stroke-width="0.8"/><path d="M25,14.6 Q19,19 15,25.2" fill="none" stroke="#a87c28" stroke-width="0.5"/><path d="M15,7.2 L18.5,9.6" fill="none" stroke="#f6e6b0" stroke-width="0.7"/><circle cx="26.2" cy="27.8" r="2.0" fill="#f2ee10"/></g>
<g transform="translate(1392.5 68.0) scale(1.0)"><path d="M28,0.8 Q35,3 37.5,9.5 M25.5,3.2 Q31.5,5 33.5,11 M0.5,32.5 Q2,36.5 6.5,37.8 M3,28.5 Q5,33 10.5,34.8" fill="none" stroke="#a8a8a8" stroke-width="0.6"/><circle cx="3.6" cy="4.3" r="2.2" fill="#fff" stroke="#c4922a" stroke-width="1.5"/><path d="M1.8,8.4 C2.5,5.5 5,4.6 8,4.9 C12,4.6 16,5.2 19,8.2 C21,10.5 22.5,13 25,14 C29,15.2 33.5,15.2 37.4,16.4 C32,20 21,31 16.6,38.6 C15.5,35 14,32 11.5,29 C8.5,26 5,20 3,14.5 C2,12 1.4,10 1.8,8.4 Z" fill="#d9a83c" stroke="#c9ced2" stroke-width="0.6"/><path d="M37.2,16.8 C40,20.5 34.5,29.5 28,35 C22.5,39.6 17.8,41 16.8,38.4 C20,32.5 31,21 37.2,16.8 Z" fill="#d8391f" stroke="#4a2010" stroke-width="0.8"/><path d="M25,14.6 Q19,19 15,25.2" fill="none" stroke="#a87c28" stroke-width="0.5"/><path d="M15,7.2 L18.5,9.6" fill="none" stroke="#f6e6b0" stroke-width="0.7"/><circle cx="26.2" cy="27.8" r="2.0" fill="#f2ee10"/></g>
<g transform="translate(829.0 369.5) scale(1.0 1.0)"><path d="M0.2,10 C-0.4,20 1.6,26.5 8,29.8 C14,32 24,30.6 32.4,26.2 C39.6,22.2 45,15 44.6,6 L40,12 L4,18 Z" fill="#a2381c"/><path d="M0.5,11.5 C0.6,7.5 4,5.2 9,5.4 C13,5.5 16,7.4 20,6.8 C24,6.2 27,3.2 31,1.6 C35,0 40.5,-0.2 43,2.6 C45.2,5.4 44,9.6 41,13.6 C37,18.6 30,22 23,23.8 C16,25.6 8,26 4,23 C1.2,20.6 0.3,16 0.5,11.5 Z" fill="#e03a22" stroke="#f0d4b8" stroke-width="1.5" transform="translate(0.6 0.3) scale(0.972 0.93)"/><path d="M0.5,11.5 C0.6,7.5 4,5.2 9,5.4 C13,5.5 16,7.4 20,6.8 C24,6.2 27,3.2 31,1.6 C35,0 40.5,-0.2 43,2.6 C45.2,5.4 44.6,9.6 44.3,8" fill="none" stroke="#8a3018" stroke-width="0.5" transform="translate(0 -0.7)"/><path d="M24.5,13.6 L13.2,6.6 M24.5,13.6 L34.5,6 M24.5,13.6 Q25.5,18 25.6,23" fill="none" stroke="#f0d4b8" stroke-width="1.5" stroke-linecap="round" transform="translate(0.6 0.3) scale(0.972 0.93)"/><ellipse cx="35.6" cy="5.3" rx="1.7" ry="1" transform="rotate(-25 35.6 5.3)" fill="#f0d4b8"/></g>
<g transform="translate(909.5 292.5) scale(1.0 1.0)"><path d="M0.2,10 C-0.4,20 1.6,26.5 8,29.8 C14,32 24,30.6 32.4,26.2 C39.6,22.2 45,15 44.6,6 L40,12 L4,18 Z" fill="#a2381c"/><path d="M0.5,11.5 C0.6,7.5 4,5.2 9,5.4 C13,5.5 16,7.4 20,6.8 C24,6.2 27,3.2 31,1.6 C35,0 40.5,-0.2 43,2.6 C45.2,5.4 44,9.6 41,13.6 C37,18.6 30,22 23,23.8 C16,25.6 8,26 4,23 C1.2,20.6 0.3,16 0.5,11.5 Z" fill="#e03a22" stroke="#f0d4b8" stroke-width="1.5" transform="translate(0.6 0.3) scale(0.972 0.93)"/><path d="M0.5,11.5 C0.6,7.5 4,5.2 9,5.4 C13,5.5 16,7.4 20,6.8 C24,6.2 27,3.2 31,1.6 C35,0 40.5,-0.2 43,2.6 C45.2,5.4 44.6,9.6 44.3,8" fill="none" stroke="#8a3018" stroke-width="0.5" transform="translate(0 -0.7)"/><path d="M24.5,13.6 L13.2,6.6 M24.5,13.6 L34.5,6 M24.5,13.6 Q25.5,18 25.6,23" fill="none" stroke="#f0d4b8" stroke-width="1.5" stroke-linecap="round" transform="translate(0.6 0.3) scale(0.972 0.93)"/><ellipse cx="35.6" cy="5.3" rx="1.7" ry="1" transform="rotate(-25 35.6 5.3)" fill="#f0d4b8"/></g>
<g transform="translate(1300.5 183.5) scale(1.03 1.03)"><path d="M0.2,10 C-0.4,20 1.6,26.5 8,29.8 C14,32 24,30.6 32.4,26.2 C39.6,22.2 45,15 44.6,6 L40,12 L4,18 Z" fill="#a2381c"/><path d="M0.5,11.5 C0.6,7.5 4,5.2 9,5.4 C13,5.5 16,7.4 20,6.8 C24,6.2 27,3.2 31,1.6 C35,0 40.5,-0.2 43,2.6 C45.2,5.4 44,9.6 41,13.6 C37,18.6 30,22 23,23.8 C16,25.6 8,26 4,23 C1.2,20.6 0.3,16 0.5,11.5 Z" fill="#e03a22" stroke="#f0d4b8" stroke-width="1.5" transform="translate(0.6 0.3) scale(0.972 0.93)"/><path d="M0.5,11.5 C0.6,7.5 4,5.2 9,5.4 C13,5.5 16,7.4 20,6.8 C24,6.2 27,3.2 31,1.6 C35,0 40.5,-0.2 43,2.6 C45.2,5.4 44.6,9.6 44.3,8" fill="none" stroke="#8a3018" stroke-width="0.5" transform="translate(0 -0.7)"/><path d="M24.5,13.6 L13.2,6.6 M24.5,13.6 L34.5,6 M24.5,13.6 Q25.5,18 25.6,23" fill="none" stroke="#f0d4b8" stroke-width="1.5" stroke-linecap="round" transform="translate(0.6 0.3) scale(0.972 0.93)"/><ellipse cx="35.6" cy="5.3" rx="1.7" ry="1" transform="rotate(-25 35.6 5.3)" fill="#f0d4b8"/></g>
<path d="M883.8,303.2 H904 M893.9,293 V313.6" stroke="#5a48c8" stroke-width="4.4" fill="none"/>
<g transform="translate(1090 250) scale(0.125)"><path d="M1085,265 C1060,190 1130,110 1280,140 C1300,95 1390,70 1440,120 C1470,70 1540,55 1590,105 C1640,55 1730,80 1745,150 C1810,175 1830,240 1790,300 C1850,340 1830,440 1735,465 C1730,540 1640,600 1555,560 C1520,640 1400,655 1325,585 C1270,625 1130,600 1120,520 C1030,510 1000,440 1050,400 C990,360 1010,280 1085,265 Z" fill="#e6f8ec" stroke="#98d88c" stroke-width="6" stroke-linejoin="round"/><circle cx="1285" cy="642" r="48" fill="#e6f8ec" stroke="#98d88c" stroke-width="5"/><circle cx="1258" cy="692" r="30" fill="#e6f8ec" stroke="#98d88c" stroke-width="5"/><path d="M1235,692 L1282,692 M1258,668 L1258,716" stroke="#98d88c" stroke-width="4" fill="none"/></g>
<g transform="translate(1240.0 277.8) scale(1.1 1.2)"><path d="M0.2,10 C-0.4,20 1.6,26.5 8,29.8 C14,32 24,30.6 32.4,26.2 C39.6,22.2 45,15 44.6,6 L40,12 L4,18 Z" fill="#a2381c"/><path d="M0.5,11.5 C0.6,7.5 4,5.2 9,5.4 C13,5.5 16,7.4 20,6.8 C24,6.2 27,3.2 31,1.6 C35,0 40.5,-0.2 43,2.6 C45.2,5.4 44,9.6 41,13.6 C37,18.6 30,22 23,23.8 C16,25.6 8,26 4,23 C1.2,20.6 0.3,16 0.5,11.5 Z" fill="#e03a22" stroke="#f0d4b8" stroke-width="1.5" transform="translate(0.6 0.3) scale(0.972 0.93)"/><path d="M0.5,11.5 C0.6,7.5 4,5.2 9,5.4 C13,5.5 16,7.4 20,6.8 C24,6.2 27,3.2 31,1.6 C35,0 40.5,-0.2 43,2.6 C45.2,5.4 44.6,9.6 44.3,8" fill="none" stroke="#8a3018" stroke-width="0.5" transform="translate(0 -0.7)"/><path d="M24.5,13.6 L13.2,6.6 M24.5,13.6 L34.5,6 M24.5,13.6 Q25.5,18 25.6,23" fill="none" stroke="#f0d4b8" stroke-width="1.5" stroke-linecap="round" transform="translate(0.6 0.3) scale(0.972 0.93)"/><ellipse cx="35.6" cy="5.3" rx="1.7" ry="1" transform="rotate(-25 35.6 5.3)" fill="#f0d4b8"/></g>
<g transform="translate(1090 250) scale(0.125)"><path d="M880,1230 C930,1200 960,1150 985,1092 C1005,1150 960,1230 905,1262 Z" fill="#f2d27c" stroke="#e9b660" stroke-width="6"/><ellipse cx="745" cy="1282" rx="130" ry="42" fill="#fff" stroke="#c8c0c0" stroke-width="4"/><path d="M520,800 C600,780 660,820 680,900 C720,960 860,1040 900,1130 C920,1200 900,1260 860,1275 L560,1262 C520,1240 500,1180 500,1100 C470,1000 480,900 520,800 Z" fill="#f2d27c" stroke="#e9b660" stroke-width="6"/><path d="M470,850 C440,950 440,1060 510,1160 C490,1060 490,950 520,840 Z" fill="#fff" stroke="#d8d0c8" stroke-width="3"/><ellipse cx="765" cy="1170" rx="100" ry="92" fill="#f2d27c" stroke="#e9b660" stroke-width="6"/><ellipse cx="700" cy="1038" rx="40" ry="22" transform="rotate(50 700 1038)" fill="#5a2c1a"/><ellipse cx="805" cy="1080" rx="48" ry="22" transform="rotate(32 805 1080)" fill="#5a2c1a"/><path d="M520,1000 C500,1100 500,1180 470,1240 L600,1250 C610,1170 600,1080 590,1000 Z" fill="#f2d27c" stroke="#e9b660" stroke-width="5"/><ellipse cx="410" cy="1228" rx="72" ry="50" fill="#fff" stroke="#c8c0c0" stroke-width="4"/><ellipse cx="530" cy="1272" rx="85" ry="46" fill="#fff" stroke="#c8c0c0" stroke-width="4"/><path d="M300,390 C350,350 440,350 490,375 C520,400 525,430 520,450 C470,470 400,470 350,450 C320,430 300,410 300,390 Z" fill="#f2d27c" stroke="#e9b660" stroke-width="6"/><ellipse cx="530" cy="645" rx="205" ry="195" fill="#f2d27c" stroke="#e9b660" stroke-width="6"/><path d="M190,690 C230,640 330,650 400,700 C470,740 480,820 430,850 C360,860 250,820 200,760 C185,735 182,710 190,690 Z" fill="#fff" stroke="#d8d0c8" stroke-width="3"/><path d="M345,812 C380,800 410,790 425,800 C420,850 420,900 395,910 C365,910 345,860 345,812 Z" fill="#f26b9a" stroke="#d84a7a" stroke-width="4"/><ellipse cx="222" cy="690" rx="43" ry="34" transform="rotate(-15 222 690)" fill="#5a2c1a"/><ellipse cx="352" cy="615" rx="24" ry="46" fill="#fff"/><ellipse cx="350" cy="622" rx="18" ry="38" fill="#1a2a8a"/><ellipse cx="350" cy="628" rx="12" ry="28" fill="#05051a"/><circle cx="356" cy="600" r="7" fill="#fff"/><ellipse cx="462" cy="640" rx="42" ry="58" fill="#fff"/><ellipse cx="462" cy="646" rx="36" ry="50" fill="#2a4ac0"/><ellipse cx="464" cy="652" rx="27" ry="40" fill="#05051a"/><circle cx="455" cy="620" r="10" fill="#fff"/><path d="M600,365 C680,350 790,420 805,500 C800,560 760,620 730,632 C700,620 690,580 680,545 C620,560 560,555 530,520 C550,450 570,390 600,365 Z" fill="#f2d27c" stroke="#e9b660" stroke-width="7"/></g><path transform="translate(1120.0 385.0) rotate(12) scale(1.200 1.222)" d="M3,-9 C2,-3 -5,1 -5,5 C-5,8 -2,9.5 0.5,9.5 C3.5,9.5 5.5,7 5.2,3.5 C5,0 3.5,-4 3,-9 Z" fill="#bfe4f2" stroke="#62b2d8" stroke-width="1.2"/><path transform="translate(1107.9 370.2) rotate(35) scale(0.800 0.556)" d="M3,-9 C2,-3 -5,1 -5,5 C-5,8 -2,9.5 0.5,9.5 C3.5,9.5 5.5,7 5.2,3.5 C5,0 3.5,-4 3,-9 Z" fill="#bfe4f2" stroke="#62b2d8" stroke-width="1.2"/><path transform="translate(1135.2 380.2) rotate(-35) scale(0.600 0.556)" d="M3,-9 C2,-3 -5,1 -5,5 C-5,8 -2,9.5 0.5,9.5 C3.5,9.5 5.5,7 5.2,3.5 C5,0 3.5,-4 3,-9 Z" fill="#bfe4f2" stroke="#62b2d8" stroke-width="1.2"/><path transform="translate(1108.5 386.5) rotate(20) scale(0.400 0.389)" d="M3,-9 C2,-3 -5,1 -5,5 C-5,8 -2,9.5 0.5,9.5 C3.5,9.5 5.5,7 5.2,3.5 C5,0 3.5,-4 3,-9 Z" fill="#bfe4f2" stroke="#62b2d8" stroke-width="1.2"/><path transform="translate(1113.8 400.0) rotate(0) scale(0.350 0.333)" d="M3,-9 C2,-3 -5,1 -5,5 C-5,8 -2,9.5 0.5,9.5 C3.5,9.5 5.5,7 5.2,3.5 C5,0 3.5,-4 3,-9 Z" fill="#bfe4f2" stroke="#62b2d8" stroke-width="1.2"/><path transform="translate(1132.5 395.0) rotate(-30) scale(0.350 0.278)" d="M3,-9 C2,-3 -5,1 -5,5 C-5,8 -2,9.5 0.5,9.5 C3.5,9.5 5.5,7 5.2,3.5 C5,0 3.5,-4 3,-9 Z" fill="#bfe4f2" stroke="#62b2d8" stroke-width="1.2"/><path transform="translate(1101.2 389.4) rotate(0) scale(0.200 0.222)" d="M3,-9 C2,-3 -5,1 -5,5 C-5,8 -2,9.5 0.5,9.5 C3.5,9.5 5.5,7 5.2,3.5 C5,0 3.5,-4 3,-9 Z" fill="#bfe4f2" stroke="#62b2d8" stroke-width="1.2"/>
</g>
<g id="panel-c">
<rect x="62" y="462" width="480" height="385" rx="50" fill="#ecfad4" filter="url(#cblur)"/>
<rect x="85" y="480" width="430" height="340" rx="50" fill="#eefbd8" filter="url(#cblur)"/>
<path d="M188.0,495.0 C194.1,493.9 190.0,502.5 191.7,507.0 C193.5,511.5 195.1,517.0 198.5,522.0 C201.9,527.0 205.5,532.7 212.0,537.0 C218.5,541.2 228.2,544.0 237.5,547.5 C246.7,551.0 259.2,553.7 267.5,558.0 C275.7,562.2 282.2,567.0 287.0,573.0 C291.7,579.0 295.5,587.0 296.0,594.0 C296.5,601.0 293.5,608.5 290.0,615.0 C286.5,621.5 281.2,627.7 275.0,633.0 C268.7,638.2 261.2,642.0 252.5,646.5 C243.7,651.0 232.5,655.5 222.5,660.0 C212.5,664.5 200.0,670.6 192.5,673.5 C185.0,676.4 183.2,677.5 177.5,677.2 C171.7,677.0 163.2,675.4 158.0,672.0 C152.7,668.6 148.5,662.7 146.0,657.0 C143.5,651.2 142.7,645.7 143.0,637.5 C143.2,629.2 146.0,617.5 147.5,607.5 C149.0,597.5 152.2,586.7 152.0,577.5 C151.7,568.2 148.5,558.7 146.0,552.0 C143.5,545.2 139.2,540.6 137.0,537.0 C134.7,533.4 129.5,534.1 132.5,530.2 C135.5,526.4 145.7,519.6 155.0,513.7 C164.2,507.9 181.9,496.1 188.0,495.0 Z" fill="url(#preg)"/>
<path d="M462.0,501.7 C466.5,502.7 473.7,510.9 480.0,516.0 C486.2,521.1 494.0,527.5 499.5,532.5 C505.0,537.5 512.5,542.9 513.0,546.0 C513.5,549.1 506.0,548.2 502.5,551.2 C499.0,554.2 495.7,559.4 492.0,564.0 C488.2,568.6 482.7,573.0 480.0,579.0 C477.2,585.0 476.4,592.7 475.5,600.0 C474.6,607.2 475.2,615.0 474.7,622.5 C474.2,630.0 474.1,637.5 472.5,645.0 C470.9,652.5 468.7,661.7 465.0,667.5 C461.2,673.2 455.5,677.7 450.0,679.5 C444.5,681.2 438.0,680.0 432.0,678.0 C426.0,676.0 419.6,671.5 414.0,667.5 C408.4,663.5 401.1,658.1 398.2,654.0 C395.4,649.9 398.7,645.1 396.7,642.7 C394.7,640.4 390.4,642.4 386.2,639.7 C382.1,637.1 377.6,632.9 372.0,627.0 C366.4,621.1 358.2,611.5 352.5,604.5 C346.7,597.5 341.1,591.0 337.5,585.0 C333.9,579.0 331.2,573.5 330.7,568.5 C330.2,563.5 331.4,559.0 334.5,555.0 C337.6,551.0 342.7,547.1 349.5,544.5 C356.2,541.9 365.7,540.2 375.0,539.2 C384.2,538.2 396.2,539.1 405.0,538.5 C413.7,537.9 421.2,537.7 427.5,535.5 C433.7,533.2 438.2,529.2 442.5,525.0 C446.7,520.7 449.7,513.9 453.0,510.0 C456.2,506.1 457.5,500.7 462.0,501.7 Z" fill="url(#preg)"/>
<path d="M165.2,516.0 C165.2,517.2 164.7,521.5 165.5,523.5 C166.3,525.5 168.0,526.7 170.0,528.0 C172.0,529.2 175.9,529.0 177.5,531.0 C179.1,533.0 179.7,537.5 179.7,540.0 C179.7,542.5 176.6,544.2 177.5,546.0 C178.4,547.7 183.6,548.7 185.0,550.5 C186.4,552.2 184.2,555.1 185.7,556.5 C187.2,557.9 190.6,558.7 194.0,558.7 C197.4,558.8 202.7,556.4 206.0,556.8 C209.2,557.2 210.5,560.2 213.5,561.0 C216.5,561.8 221.0,560.7 224.0,561.7 C227.0,562.7 230.2,566.1 231.5,567.0" fill="none" stroke="#7a3cb4" stroke-width="4.2" stroke-linejoin="round"/>
<path d="M177.5,546.0 C176.7,547.5 173.9,552.2 173.0,555.0 C172.1,557.7 173.7,560.5 172.2,562.5 C170.7,564.5 165.6,564.7 164.0,567.0 C162.4,569.2 163.5,573.1 162.5,576.0 C161.5,578.9 158.7,582.9 158.0,584.2" fill="none" stroke="#7a3cb4" stroke-width="4.2" stroke-linejoin="round"/>
<path d="M185.7,556.5 C185.1,557.7 182.4,561.2 182.0,564.0 C181.6,566.7 182.9,570.3 183.5,573.0 C184.1,575.7 185.4,579.0 185.7,580.2" fill="none" stroke="#7a3cb4" stroke-width="4.2" stroke-linejoin="round"/>
<path d="M219.5,561.7 C219.1,563.6 216.2,570.4 217.2,573.0 C218.2,575.6 223.9,575.0 225.5,577.5 C227.1,580.0 225.2,585.7 227.0,588.0 C228.7,590.2 233.7,587.9 236.0,591.0 C238.2,594.1 239.7,604.1 240.5,606.7" fill="none" stroke="#7a3cb4" stroke-width="4.2" stroke-linejoin="round"/>
<path d="M481.5,536.2 C480.0,536.9 474.6,538.4 472.5,540.0 C470.4,541.6 469.0,544.0 468.7,546.0 C468.5,548.0 471.6,550.5 471.0,552.0 C470.4,553.5 467.7,554.2 465.0,555.0 C462.2,555.7 458.2,556.4 454.5,556.5 C450.7,556.6 445.7,556.0 442.5,555.7 C439.2,555.5 437.2,555.6 435.0,555.0 C432.7,554.4 431.0,552.1 429.0,552.0 C427.0,551.9 425.5,554.1 423.0,554.2 C420.5,554.4 415.5,553.0 414.0,552.7" fill="none" stroke="#5a8da8" stroke-width="4.2" stroke-linejoin="round"/>
<path d="M459.0,556.5 C458.5,557.7 457.7,562.2 456.0,564.0 C454.2,565.7 451.5,566.1 448.5,567.0 C445.5,567.9 441.5,567.6 438.0,569.2 C434.5,570.9 429.2,575.5 427.5,576.7" fill="none" stroke="#5a8da8" stroke-width="4.2" stroke-linejoin="round"/>
<path d="M448.5,567.0 C448.7,568.7 448.9,574.0 450.0,577.5 C451.1,581.0 454.5,584.5 455.2,588.0 C456.0,591.5 455.4,595.9 454.5,598.5 C453.6,601.1 452.1,602.7 450.0,603.7 C447.9,604.7 443.5,603.1 441.7,604.5 C440.0,605.9 441.1,609.4 439.5,612.0 C437.9,614.6 433.0,617.5 432.0,620.2 C431.0,623.0 435.5,625.7 433.5,628.5 C431.5,631.2 422.2,635.4 420.0,636.7" fill="none" stroke="#5a8da8" stroke-width="4.2" stroke-linejoin="round"/>
<path d="M450.0,603.7 C451.0,604.4 454.9,605.5 456.0,607.5 C457.1,609.5 456.6,614.4 456.7,615.7" fill="none" stroke="#5a8da8" stroke-width="4.2" stroke-linejoin="round"/>
<path d="M75.2,600.7 L96.5,591.0 L82.2,558.0 L106.2,546.3 L121.7,579.0 L143.7,568.9" fill="none" stroke="#7030a8" stroke-width="2.3" />
<path d="M480.7,573.3 L500.2,585.7 L519.7,556.5 L542.2,570.0 L524.2,600.0 L544.5,612.7" fill="none" stroke="#5a8da8" stroke-width="2.3" />
<circle cx="184.7" cy="624.3" r="11.8" fill="#fff" stroke="#3a58b0" stroke-width="1"/><circle cx="178.7" cy="624.4" r="3.1" fill="#cc2018"/><circle cx="187.2" cy="622.9" r="3.1" fill="#cc2018"/>
<circle cx="218.7" cy="616.2" r="11.8" fill="#fff" stroke="#3a58b0" stroke-width="1"/><circle cx="212.7" cy="616.5" r="3.1" fill="#cc2018"/><circle cx="221.0" cy="615.9" r="3.1" fill="#cc2018"/>
<circle cx="267.5" cy="595.5" r="11.8" fill="#fff" stroke="#3a58b0" stroke-width="1"/><circle cx="263.0" cy="595.2" r="3.1" fill="#cc2018"/><circle cx="266.7" cy="591.7" r="3.1" fill="#cc2018"/><circle cx="268.7" cy="598.8" r="3.1" fill="#cc2018"/>
<circle cx="383.7" cy="589.5" r="11.8" fill="#fff" stroke="#3a58b0" stroke-width="1"/><circle cx="377.2" cy="588.0" r="3.1" fill="#cc2018"/><circle cx="385.2" cy="588.0" r="3.1" fill="#cc2018"/>
<circle cx="408.4" cy="621.0" r="11.8" fill="#fff" stroke="#3a58b0" stroke-width="1"/><circle cx="407.2" cy="621.0" r="3.1" fill="#cc2018"/><circle cx="414.7" cy="622.9" r="3.1" fill="#cc2018"/><circle cx="405.7" cy="627.0" r="3.1" fill="#cc2018"/>
<circle cx="436.0" cy="657.7" r="11.8" fill="#fff" stroke="#3a58b0" stroke-width="1"/><circle cx="433.5" cy="656.2" r="3.1" fill="#cc2018"/><circle cx="439.5" cy="658.0" r="3.1" fill="#cc2018"/>
<circle cx="318.5" cy="622.0" r="3.1" fill="#cc2018"/>
<circle cx="284.0" cy="632.7" r="3.1" fill="#cc2018"/>
<circle cx="254.0" cy="637.5" r="3.1" fill="#cc2018"/>
<circle cx="258.9" cy="637.9" r="3.1" fill="#cc2018"/>
<circle cx="253.7" cy="643.9" r="3.1" fill="#cc2018"/>
<circle cx="312.8" cy="650.7" r="3.1" fill="#cc2018"/>
<circle cx="334.2" cy="658.8" r="3.1" fill="#cc2018"/>
<circle cx="303.5" cy="668.2" r="3.1" fill="#cc2018"/>
<circle cx="219.2" cy="680.2" r="3.1" fill="#cc2018"/>
<circle cx="318.7" cy="622.0" r="3.1" fill="#cc2018"/>
<circle cx="313.0" cy="650.7" r="3.1" fill="#cc2018"/>
<circle cx="334.2" cy="658.8" r="3.1" fill="#cc2018"/>
<circle cx="379.9" cy="671.5" r="3.1" fill="#cc2018"/>
<circle cx="386.7" cy="646.0" r="3.1" fill="#cc2018"/>
<circle cx="392.2" cy="649.5" r="3.1" fill="#cc2018"/>
<path d="M222.8,709.0 C226.5,705.8 230.9,701.3 238.0,698.0 C245.1,694.7 256.2,690.9 265.6,689.0 C275.0,687.1 281.3,686.8 294.6,686.5 C308.0,686.3 332.6,686.4 345.7,687.6 C358.8,688.9 365.5,690.3 373.3,693.9 C381.1,697.4 387.8,703.1 392.6,709.0 C397.5,715.0 400.7,722.9 402.3,729.8 C403.9,736.7 403.7,744.3 402.3,750.5 C400.9,756.7 398.9,761.5 394.0,767.0 C389.2,772.6 381.4,778.5 373.3,783.6 C365.3,788.7 352.9,794.0 345.7,797.4 C338.5,800.9 333.0,802.2 329.8,804.3 C326.6,806.4 327.5,805.0 326.6,809.8 C325.8,814.7 325.3,825.7 325.0,833.3 C324.6,840.9 324.0,850.1 324.6,855.4 C325.1,860.7 328.1,862.8 328.4,865.1 C328.7,867.4 332.7,868.4 326.4,869.2 C320.0,870.0 295.9,871.3 290.5,869.9 C285.0,868.5 292.8,867.0 293.5,860.9 C294.2,854.8 294.8,841.4 294.6,833.3 C294.4,825.3 293.5,817.6 292.5,812.6 C291.6,807.7 291.3,805.6 289.1,803.6 C286.9,801.7 284.9,802.8 279.4,800.9 C273.9,798.9 263.8,796.8 255.9,791.9 C248.1,786.9 239.1,778.1 232.5,771.2 C225.8,764.3 219.4,756.7 215.9,750.5 C212.4,744.3 211.8,739.4 211.8,733.9 C211.8,728.4 214.1,721.5 215.9,717.3 C217.7,713.2 219.1,712.3 222.8,709.0 Z" fill="url(#postg)"/>
<g transform="translate(237.8 682.0) scale(24.00 41.50)"><path d="M0.34,0.08 C0.42,0.0 0.58,0.0 0.66,0.08 L0.6,0.96 C0.56,1.02 0.44,1.02 0.4,0.96 Z" fill="#8e22f5"/><path d="M0.14,0.02 C0.26,-0.02 0.36,0.06 0.38,0.14 C0.42,0.4 0.40,0.7 0.34,0.9 C0.30,0.97 0.24,0.97 0.21,0.9 C0.2,0.7 0.08,0.5 0.02,0.3 C-0.03,0.14 0.04,0.04 0.14,0.02 Z" fill="#b12fff"/><path d="M0.86,0.05 C0.74,0.0 0.64,0.1 0.6,0.2 C0.56,0.45 0.6,0.75 0.64,0.93 C0.68,1.0 0.74,1.0 0.77,0.93 C0.8,0.72 0.92,0.5 0.98,0.32 C1.03,0.16 0.96,0.08 0.86,0.05 Z" fill="#b12fff"/></g>
<g transform="translate(292.2 669.6) scale(29.20 42.60)"><path d="M0.34,0.08 C0.42,0.0 0.58,0.0 0.66,0.08 L0.6,0.96 C0.56,1.02 0.44,1.02 0.4,0.96 Z" fill="#8e22f5"/><path d="M0.14,0.02 C0.26,-0.02 0.36,0.06 0.38,0.14 C0.42,0.4 0.40,0.7 0.34,0.9 C0.30,0.97 0.24,0.97 0.21,0.9 C0.2,0.7 0.08,0.5 0.02,0.3 C-0.03,0.14 0.04,0.04 0.14,0.02 Z" fill="#b12fff"/><path d="M0.86,0.05 C0.74,0.0 0.64,0.1 0.6,0.2 C0.56,0.45 0.6,0.75 0.64,0.93 C0.68,1.0 0.74,1.0 0.77,0.93 C0.8,0.72 0.92,0.5 0.98,0.32 C1.03,0.16 0.96,0.08 0.86,0.05 Z" fill="#b12fff"/></g>
<g transform="translate(342.6 677.6) scale(28.40 27.80)"><path d="M0.34,0.08 C0.42,0.0 0.58,0.0 0.66,0.08 L0.6,0.96 C0.56,1.02 0.44,1.02 0.4,0.96 Z" fill="#8e22f5"/><path d="M0.14,0.02 C0.26,-0.02 0.36,0.06 0.38,0.14 C0.42,0.4 0.40,0.7 0.34,0.9 C0.30,0.97 0.24,0.97 0.21,0.9 C0.2,0.7 0.08,0.5 0.02,0.3 C-0.03,0.14 0.04,0.04 0.14,0.02 Z" fill="#b12fff"/><path d="M0.86,0.05 C0.74,0.0 0.64,0.1 0.6,0.2 C0.56,0.45 0.6,0.75 0.64,0.93 C0.68,1.0 0.74,1.0 0.77,0.93 C0.8,0.72 0.92,0.5 0.98,0.32 C1.03,0.16 0.96,0.08 0.86,0.05 Z" fill="#b12fff"/></g>
<line x1="305.00" y1="652.00" x2="305.00" y2="717.00" stroke="#222" stroke-width="1.5" />
<polygon points="305,725 300.8,716 309.2,716" fill="#000"/>
<text x="84" y="479.3" font-size="33.9" >Presynapse 1</text>
<text x="334.5" y="481" font-size="33.9" >Presynapse 2</text>
<text x="66.5" y="646.3" font-size="33.9" >Light 1</text>
<text x="451.5" y="649.2" font-size="33.9" >Light 2</text>
<rect x="139.3" y="875.3" width="410.2" height="215" rx="21" fill="url(#boxg)" stroke="#3aa098" stroke-width="1.4"/>
<line x1="19.80" y1="953.60" x2="172.00" y2="953.60" stroke="#000" stroke-width="1.7" />
<line x1="19.80" y1="1012.90" x2="173.00" y2="1012.90" stroke="#000" stroke-width="1.7" />
<line x1="172.30" y1="953.60" x2="255.80" y2="922.20" stroke="#000" stroke-width="1.7" />
<line x1="173.30" y1="1012.90" x2="255.80" y2="981.00" stroke="#000" stroke-width="1.7" />
<circle cx="172.3" cy="953.8" r="6.4" fill="#000"/><circle cx="173.3" cy="1012.9" r="6.4" fill="#000"/>
<path d="M265.0,934.7 L355.8,934.7 L355.8,917.8 L436.3,917.8" fill="none" stroke="#b64af2" stroke-width="1.8" stroke-linejoin="miter"/>
<path d="M265.0,990.8 L390.4,990.8 L390.4,952.5 L436.3,952.5" fill="none" stroke="#b64af2" stroke-width="1.8" stroke-linejoin="miter"/>
<path d="M265.0,957.1 L364.7,957.1 L364.7,1029.4 L438.0,1029.4" fill="none" stroke="#3f968c" stroke-width="1.8" stroke-linejoin="miter"/>
<path d="M265.0,1012.9 L344.9,1012.9 L344.9,1064.0 L438.0,1064.0" fill="none" stroke="#3f968c" stroke-width="1.8" stroke-linejoin="miter"/>
<circle cx="259.7" cy="934.7" r="5.2" fill="#ee8ad2" stroke="#b64af2" stroke-width="1.6"/>
<circle cx="259.7" cy="957.1" r="5.2" fill="#f3e4c6" stroke="#3f968c" stroke-width="1.6"/>
<circle cx="259.7" cy="990.8" r="5.2" fill="#ee8ad2" stroke="#b64af2" stroke-width="1.6"/>
<circle cx="259.7" cy="1012.9" r="5.2" fill="#f3e4c6" stroke="#3f968c" stroke-width="1.6"/>
<path d="M436.3,901.5 H470 A34.3,34.3 0 0 1 470,970 H436.3 Z" fill="#f08ec6" stroke="#b64af2" stroke-width="1.8"/>
<path d="M432.5,1013 C465,1011 492,1022 505,1046.5 C492,1071 465,1082.5 432.5,1081 C444,1060 444,1034 432.5,1013 Z" fill="#f5e6c6" stroke="#3f968c" stroke-width="1.8"/>
<path d="M504.3,934.7 L528.0,934.7 L528.0,982.2" fill="none" stroke="#b64af2" stroke-width="1.8" stroke-linejoin="miter"/>
<path d="M505.0,1046.5 L528.0,1046.5 L528.0,982.2" fill="none" stroke="#3f968c" stroke-width="1.8" stroke-linejoin="miter"/>
<line x1="528.00" y1="982.20" x2="581.00" y2="982.20" stroke="#000" stroke-width="1.7" />
<text x="227" y="910.6" font-size="33.3" fill="#b64af2" >375 nm</text>
<text x="210" y="1064" font-size="33.3" fill="#3f968c" >455 nm</text>
<text x="30.5" y="943.6" font-size="32.8" >Light 1</text>
<text x="30.5" y="994.7" font-size="32.8" >Light 2</text>
<text x="37" y="1044.2" font-size="32.8" >Input</text>
<text x="549.5" y="1024.5" font-size="32.8" >Output</text>
<text x="470.5" y="947" font-size="32.5" text-anchor="middle" >AND</text>
<text x="466" y="1057.5" font-size="32.5" text-anchor="middle" >OR</text>
<text x="10.5" y="437.4" font-size="43.5" >c</text>
</g>
<g id="panel-d"><path d="M787.3,807.9 L883.3,807.9 L883.3,702.0 L1115.0,702.0 L1115.0,807.9 L1235.4,807.9" fill="none" stroke="#a22dba" stroke-width="4.3" stroke-linejoin="round"/>
<path d="M787.3,832.7 L883.3,832.7 L883.3,942.5 L1003.8,942.5 L1003.8,832.7 L1115.0,832.7 L1115.0,942.5 L1235.4,942.5" fill="none" stroke="#1a0f9c" stroke-width="4.3" stroke-linejoin="round"/>
<line x1="787.30" y1="1035.70" x2="1235.40" y2="1035.70" stroke="#8a8a8a" stroke-width="1" stroke-dasharray="2.2 2.6"/>
<path d="M787.5,1013.6 L790.0,1013.2 L792.5,1013.1 L795.0,1014.5 L797.4,1016.0 L799.9,1017.4 L802.4,1018.8 L804.9,1019.9 L807.4,1020.8 L809.9,1021.5 L812.4,1022.2 L814.8,1022.7 L817.3,1023.2 L819.8,1023.7 L822.3,1024.1 L824.8,1024.4 L827.3,1024.8 L829.7,1025.2 L832.2,1025.5 L834.7,1025.8 L837.2,1026.1 L839.7,1026.4 L842.2,1026.7 L844.7,1027.0 L847.1,1027.3 L849.6,1027.5 L852.1,1027.8 L854.6,1028.0 L857.1,1028.3 L859.6,1028.5 L862.1,1028.8 L864.5,1029.0 L867.0,1029.2 L869.5,1029.4 L872.0,1029.7 L874.5,1029.9 L877.0,1030.1 L879.4,1030.3 L881.9,1030.5 L884.4,1030.6" fill="none" stroke="#a81c50" stroke-width="4.3" stroke-linecap="round" stroke-linejoin="round"/>
<path d="M882.7,1009.1 L885.8,1010.7 L889.0,1012.1 L892.1,1013.2 L895.2,1013.0 L898.3,1011.5 L901.5,1010.2 L904.6,1009.9 L907.7,1010.0 L910.8,1010.2 L913.9,1010.5 L917.1,1010.8 L920.2,1011.1 L923.3,1011.4 L926.4,1011.8 L929.6,1012.1 L932.7,1012.3 L935.8,1012.6 L938.9,1012.8 L942.0,1013.1 L945.2,1013.4 L948.3,1013.6 L951.4,1013.9 L954.5,1014.1 L957.7,1014.4 L960.8,1014.6 L963.9,1014.8 L967.0,1015.1 L970.2,1015.3 L973.3,1015.6 L976.4,1015.8 L979.5,1016.1 L982.6,1016.3 L985.8,1016.5 L988.9,1016.8 L992.0,1017.0 L995.1,1017.2 L998.3,1017.4 L1001.4,1017.6 L1004.5,1017.8" fill="none" stroke="#a81c50" stroke-width="4.3" stroke-linecap="round" stroke-linejoin="round"/>
<path d="M1003.8,977.0 L1006.7,977.1 L1009.6,977.6 L1012.5,980.7 L1015.3,982.7 L1018.2,983.9 L1021.1,984.9 L1024.0,985.7 L1026.8,986.4 L1029.7,987.0 L1032.6,987.5 L1035.5,988.0 L1038.3,988.4 L1041.2,988.8 L1044.1,989.1 L1047.0,989.4 L1049.9,989.8 L1052.7,990.0 L1055.6,990.3 L1058.5,990.6 L1061.4,990.9 L1064.2,991.2 L1067.1,991.5 L1070.0,991.8 L1072.9,992.2 L1075.7,992.5 L1078.6,992.8 L1081.5,993.1 L1084.4,993.4 L1087.3,993.7 L1090.1,994.0 L1093.0,994.2 L1095.9,994.5 L1098.8,994.8 L1101.6,995.1 L1104.5,995.4 L1107.4,995.6 L1110.3,995.9 L1113.2,996.1 L1116.0,996.4" fill="none" stroke="#a81c50" stroke-width="4.3" stroke-linecap="round" stroke-linejoin="round"/>
<path d="M1115.0,1042.6 L1118.1,1042.8 L1121.2,1043.0 L1124.3,1043.1 L1127.4,1043.3 L1130.4,1043.4 L1133.5,1043.6 L1136.6,1043.7 L1139.7,1043.9 L1142.8,1044.0 L1145.9,1044.2 L1149.0,1044.3 L1152.0,1044.4 L1155.1,1044.6 L1158.2,1044.7 L1161.3,1044.8 L1164.4,1044.9 L1167.5,1045.0 L1170.6,1045.2 L1173.6,1045.3 L1176.7,1045.4 L1179.8,1045.5 L1182.9,1045.6 L1186.0,1045.7 L1189.1,1045.8 L1192.2,1045.9 L1195.3,1046.0 L1198.3,1046.1 L1201.4,1046.2 L1204.5,1046.3 L1207.6,1046.4 L1210.7,1046.5 L1213.8,1046.5 L1216.9,1046.6 L1219.9,1046.7 L1223.0,1046.8 L1226.1,1046.9 L1229.2,1046.9 L1232.3,1047.0 L1235.4,1047.1" fill="none" stroke="#a81c50" stroke-width="4.3" stroke-linecap="round" stroke-linejoin="round"/>
<rect x="787.30" y="688.80" width="448.10" height="396.80" fill="none" stroke="#000" stroke-width="1.4" />
<line x1="787.30" y1="821.30" x2="1235.40" y2="821.30" stroke="#000" stroke-width="1.5" />
<line x1="787.30" y1="953.60" x2="1235.40" y2="953.60" stroke="#000" stroke-width="1.5" />
<line x1="779.80" y1="702.00" x2="787.30" y2="702.00" stroke="#000" stroke-width="1.4" />
<text x="773" y="706.4" font-size="31" text-anchor="end" >20</text>
<line x1="779.80" y1="807.90" x2="787.30" y2="807.90" stroke="#000" stroke-width="1.4" />
<text x="773" y="815.6" font-size="31" text-anchor="end" >0</text>
<line x1="779.80" y1="832.70" x2="787.30" y2="832.70" stroke="#000" stroke-width="1.4" />
<text x="773" y="843.7" font-size="31" text-anchor="end" >100</text>
<line x1="779.80" y1="942.50" x2="787.30" y2="942.50" stroke="#000" stroke-width="1.4" />
<text x="773" y="953.5" font-size="31" text-anchor="end" >0</text>
<line x1="779.80" y1="965.70" x2="787.30" y2="965.70" stroke="#000" stroke-width="1.4" />
<text x="773" y="979.2" font-size="31" text-anchor="end" >16</text>
<line x1="779.80" y1="1013.80" x2="787.30" y2="1013.80" stroke="#000" stroke-width="1.4" />
<text x="773" y="1024.8" font-size="31" text-anchor="end" >15</text>
<line x1="779.80" y1="1061.80" x2="787.30" y2="1061.80" stroke="#000" stroke-width="1.4" />
<text x="773" y="1072.8" font-size="31" text-anchor="end" >14</text>
<line x1="783.30" y1="755.00" x2="787.30" y2="755.00" stroke="#000" stroke-width="1.3" />
<line x1="783.30" y1="887.60" x2="787.30" y2="887.60" stroke="#000" stroke-width="1.3" />
<line x1="783.30" y1="989.80" x2="787.30" y2="989.80" stroke="#000" stroke-width="1.3" />
<line x1="783.30" y1="1037.60" x2="787.30" y2="1037.60" stroke="#000" stroke-width="1.3" />
<line x1="783.30" y1="1085.60" x2="787.30" y2="1085.60" stroke="#000" stroke-width="1.3" />
<line x1="787.30" y1="1085.60" x2="787.30" y2="1093.10" stroke="#000" stroke-width="1.4" />
<line x1="980.50" y1="1085.60" x2="980.50" y2="1093.10" stroke="#000" stroke-width="1.4" />
<line x1="1174.00" y1="1085.60" x2="1174.00" y2="1093.10" stroke="#000" stroke-width="1.4" />
<line x1="883.60" y1="1085.60" x2="883.60" y2="1089.60" stroke="#000" stroke-width="1.3" />
<line x1="1077.20" y1="1085.60" x2="1077.20" y2="1089.60" stroke="#000" stroke-width="1.3" />
<line x1="980.50" y1="821.30" x2="980.50" y2="826.80" stroke="#000" stroke-width="1.3" />
<line x1="980.50" y1="953.60" x2="980.50" y2="959.10" stroke="#000" stroke-width="1.3" />
<line x1="1174.00" y1="821.30" x2="1174.00" y2="826.80" stroke="#000" stroke-width="1.3" />
<line x1="1174.00" y1="953.60" x2="1174.00" y2="959.10" stroke="#000" stroke-width="1.3" />
<line x1="883.60" y1="821.30" x2="883.60" y2="824.30" stroke="#000" stroke-width="1.3" />
<line x1="883.60" y1="953.60" x2="883.60" y2="956.60" stroke="#000" stroke-width="1.3" />
<line x1="1077.20" y1="821.30" x2="1077.20" y2="824.30" stroke="#000" stroke-width="1.3" />
<line x1="1077.20" y1="953.60" x2="1077.20" y2="956.60" stroke="#000" stroke-width="1.3" />
<text x="838.9" y="803.8" font-size="44" text-anchor="middle" >“0”</text>
<text x="942.8" y="750.4" font-size="44" text-anchor="middle" >“1”</text>
<text x="1070.1" y="750.4" font-size="44" text-anchor="middle" >“1”</text>
<text x="1187.4" y="803.8" font-size="44" text-anchor="middle" >“0”</text>
<text x="845" y="880.5" font-size="44" text-anchor="middle" >“1”</text>
<text x="942.8" y="938" font-size="44" text-anchor="middle" >“0”</text>
<text x="1054.1" y="880.5" font-size="44" text-anchor="middle" >“1”</text>
<text x="1181.6" y="938" font-size="44" text-anchor="middle" >“0”</text>
<text x="838.2" y="998.6" font-size="44" text-anchor="middle" >“1”</text>
<text x="943.3" y="1001" font-size="44" text-anchor="middle" >“1”</text>
<text x="1070.1" y="989" font-size="44" text-anchor="middle" >“1”</text>
<text x="1187.4" y="998.4" font-size="44" text-anchor="middle" >“0”</text>
<text x="1069" y="1032.4" font-size="31.4" >Threshold</text>
<text transform="translate(1279 747.5) rotate(-90)" font-size="35" text-anchor="middle" fill="#a22dba">375 nm</text>
<text transform="translate(1279 879.3) rotate(-90)" font-size="35" text-anchor="middle" fill="#1a1496">455 nm</text>
<text transform="translate(711.5 799.8) rotate(-90) scale(0.999 1)" font-size="36" text-anchor="middle">Intensity (mW cm<tspan font-size="25.5" dy="-12">-2</tspan><tspan dy="12">)</tspan></text>
<text transform="translate(708.5 1024) rotate(-90)" font-size="37.5" text-anchor="middle"><tspan class="it">I</tspan><tspan font-size="25" dy="8">D</tspan><tspan dy="-8"> (μA)</tspan></text><text x="632.7" y="658.5" font-size="43.5" >d</text></g>
<g id="panel-e"><path d="M1470.5,702.3 L1686.8,702.3 L1686.8,808.0 L1919.2,808.0" fill="none" stroke="#a22dba" stroke-width="4.3" stroke-linejoin="round"/>
<path d="M1470.5,832.8 L1567.0,832.8 L1567.0,942.0 L1798.8,942.0 L1798.8,832.8 L1919.2,832.8" fill="none" stroke="#1a0f9c" stroke-width="4.3" stroke-linejoin="round"/>
<line x1="1470.50" y1="1035.50" x2="1919.20" y2="1035.50" stroke="#8a8a8a" stroke-width="1" stroke-dasharray="2.2 2.6"/>
<path d="M1471.2,1006.1 L1473.6,1005.8 L1476.1,1005.7 L1478.5,1006.8 L1481.0,1008.8 L1483.5,1010.7 L1485.9,1011.3 L1488.4,1011.2 L1490.8,1011.0 L1493.3,1011.1 L1495.7,1011.4 L1498.2,1012.0 L1500.7,1012.8 L1503.1,1013.6 L1505.6,1014.4 L1508.0,1015.1 L1510.5,1015.6 L1513.0,1016.1 L1515.4,1016.5 L1517.9,1016.9 L1520.3,1017.3 L1522.8,1017.7 L1525.3,1018.1 L1527.7,1018.4 L1530.2,1018.7 L1532.6,1019.1 L1535.1,1019.4 L1537.6,1019.7 L1540.0,1020.0 L1542.5,1020.2 L1544.9,1020.5 L1547.4,1020.8 L1549.8,1021.0 L1552.3,1021.3 L1554.8,1021.5 L1557.2,1021.7 L1559.7,1022.0 L1562.1,1022.2 L1564.6,1022.3 L1567.1,1022.5" fill="none" stroke="#a81c50" stroke-width="4.3" stroke-linecap="round" stroke-linejoin="round"/>
<path d="M1567.1,1039.0 L1570.0,1040.9 L1573.0,1042.2 L1576.0,1042.8 L1579.0,1042.4 L1582.0,1041.4 L1584.9,1041.1 L1587.9,1041.1 L1590.9,1041.1 L1593.9,1041.1 L1596.9,1041.3 L1599.8,1041.6 L1602.8,1042.0 L1605.8,1042.4 L1608.8,1042.8 L1611.8,1043.2 L1614.7,1043.5 L1617.7,1043.8 L1620.7,1044.0 L1623.7,1044.3 L1626.7,1044.5 L1629.6,1044.8 L1632.6,1045.0 L1635.6,1045.3 L1638.6,1045.5 L1641.6,1045.7 L1644.5,1045.9 L1647.5,1046.1 L1650.5,1046.4 L1653.5,1046.6 L1656.5,1046.8 L1659.4,1047.0 L1662.4,1047.2 L1665.4,1047.4 L1668.4,1047.5 L1671.4,1047.7 L1674.3,1047.9 L1677.3,1048.1 L1680.3,1048.3 L1683.3,1048.4" fill="none" stroke="#a81c50" stroke-width="4.3" stroke-linecap="round" stroke-linejoin="round"/>
<path d="M1686.8,1061.0 L1689.6,1061.2 L1692.5,1061.4 L1695.4,1061.6 L1698.3,1061.8 L1701.1,1062.0 L1704.0,1062.2 L1706.9,1062.3 L1709.7,1062.5 L1712.6,1062.7 L1715.5,1062.9 L1718.4,1063.0 L1721.2,1063.2 L1724.1,1063.3 L1727.0,1063.5 L1729.8,1063.7 L1732.7,1063.8 L1735.6,1063.9 L1738.5,1064.1 L1741.3,1064.2 L1744.2,1064.4 L1747.1,1064.5 L1750.0,1064.6 L1752.8,1064.8 L1755.7,1064.9 L1758.6,1065.0 L1761.4,1065.2 L1764.3,1065.3 L1767.2,1065.4 L1770.1,1065.5 L1772.9,1065.6 L1775.8,1065.8 L1778.7,1065.9 L1781.5,1066.0 L1784.4,1066.1 L1787.3,1066.2 L1790.2,1066.3 L1793.0,1066.4 L1795.9,1066.5 L1798.8,1066.6" fill="none" stroke="#a81c50" stroke-width="4.3" stroke-linecap="round" stroke-linejoin="round"/>
<path d="M1798.8,1041.1 L1801.8,1042.4 L1804.9,1044.0 L1808.0,1046.1 L1811.1,1047.7 L1814.1,1048.8 L1817.2,1049.6 L1820.3,1050.3 L1823.3,1050.9 L1826.4,1051.5 L1829.5,1051.9 L1832.5,1052.4 L1835.6,1052.8 L1838.7,1053.1 L1841.7,1053.5 L1844.8,1053.9 L1847.9,1054.3 L1851.0,1054.6 L1854.0,1055.0 L1857.1,1055.4 L1860.2,1055.7 L1863.2,1056.1 L1866.3,1056.4 L1869.4,1056.7 L1872.4,1057.1 L1875.5,1057.4 L1878.6,1057.7 L1881.6,1058.0 L1884.7,1058.3 L1887.8,1058.6 L1890.9,1058.8 L1893.9,1058.9 L1897.0,1059.0 L1900.1,1059.2 L1903.1,1059.4 L1906.2,1059.7 L1909.3,1060.4 L1912.3,1064.3 L1915.4,1066.9 L1918.5,1068.0" fill="none" stroke="#a81c50" stroke-width="4.3" stroke-linecap="round" stroke-linejoin="round"/>
<rect x="1470.50" y="688.60" width="448.70" height="396.90" fill="none" stroke="#000" stroke-width="1.4" />
<line x1="1470.50" y1="822.00" x2="1919.20" y2="822.00" stroke="#000" stroke-width="1.5" />
<line x1="1470.50" y1="953.60" x2="1919.20" y2="953.60" stroke="#000" stroke-width="1.5" />
<line x1="1463.00" y1="702.30" x2="1470.50" y2="702.30" stroke="#000" stroke-width="1.4" />
<text x="1456" y="713.3" font-size="31" text-anchor="end" >20</text>
<line x1="1463.00" y1="808.00" x2="1470.50" y2="808.00" stroke="#000" stroke-width="1.4" />
<text x="1456" y="819" font-size="31" text-anchor="end" >0</text>
<line x1="1463.00" y1="832.80" x2="1470.50" y2="832.80" stroke="#000" stroke-width="1.4" />
<text x="1456" y="843.8" font-size="31" text-anchor="end" >100</text>
<line x1="1463.00" y1="942.00" x2="1470.50" y2="942.00" stroke="#000" stroke-width="1.4" />
<text x="1456" y="953" font-size="31" text-anchor="end" >0</text>
<line x1="1463.00" y1="965.80" x2="1470.50" y2="965.80" stroke="#000" stroke-width="1.4" />
<text x="1456" y="976.8" font-size="31" text-anchor="end" >16</text>
<line x1="1463.00" y1="1014.50" x2="1470.50" y2="1014.50" stroke="#000" stroke-width="1.4" />
<text x="1456" y="1025.5" font-size="31" text-anchor="end" >15</text>
<line x1="1463.00" y1="1062.10" x2="1470.50" y2="1062.10" stroke="#000" stroke-width="1.4" />
<text x="1456" y="1073.1" font-size="31" text-anchor="end" >14</text>
<line x1="1466.50" y1="755.00" x2="1470.50" y2="755.00" stroke="#000" stroke-width="1.3" />
<line x1="1466.50" y1="887.40" x2="1470.50" y2="887.40" stroke="#000" stroke-width="1.3" />
<line x1="1466.50" y1="990.00" x2="1470.50" y2="990.00" stroke="#000" stroke-width="1.3" />
<line x1="1466.50" y1="1038.00" x2="1470.50" y2="1038.00" stroke="#000" stroke-width="1.3" />
<line x1="1466.50" y1="1085.50" x2="1470.50" y2="1085.50" stroke="#000" stroke-width="1.3" />
<line x1="1470.50" y1="1085.50" x2="1470.50" y2="1093.00" stroke="#000" stroke-width="1.4" />
<line x1="1663.50" y1="1085.50" x2="1663.50" y2="1093.00" stroke="#000" stroke-width="1.4" />
<line x1="1856.50" y1="1085.50" x2="1856.50" y2="1093.00" stroke="#000" stroke-width="1.4" />
<line x1="1567.00" y1="1085.50" x2="1567.00" y2="1089.50" stroke="#000" stroke-width="1.3" />
<line x1="1760.00" y1="1085.50" x2="1760.00" y2="1089.50" stroke="#000" stroke-width="1.3" />
<line x1="1663.50" y1="822.00" x2="1663.50" y2="827.50" stroke="#000" stroke-width="1.3" />
<line x1="1663.50" y1="953.60" x2="1663.50" y2="959.10" stroke="#000" stroke-width="1.3" />
<line x1="1856.50" y1="822.00" x2="1856.50" y2="827.50" stroke="#000" stroke-width="1.3" />
<line x1="1856.50" y1="953.60" x2="1856.50" y2="959.10" stroke="#000" stroke-width="1.3" />
<line x1="1567.00" y1="822.00" x2="1567.00" y2="825.00" stroke="#000" stroke-width="1.3" />
<line x1="1567.00" y1="953.60" x2="1567.00" y2="956.60" stroke="#000" stroke-width="1.3" />
<line x1="1760.00" y1="822.00" x2="1760.00" y2="825.00" stroke="#000" stroke-width="1.3" />
<line x1="1760.00" y1="953.60" x2="1760.00" y2="956.60" stroke="#000" stroke-width="1.3" />
<text x="1515.3" y="745" font-size="44" text-anchor="middle" >“1”</text>
<text x="1616.8" y="745" font-size="44" text-anchor="middle" >“1”</text>
<text x="1748.7" y="799.4" font-size="44" text-anchor="middle" >“0”</text>
<text x="1869.8" y="799.4" font-size="44" text-anchor="middle" >“0”</text>
<text x="1511.8" y="886" font-size="44" text-anchor="middle" >“1”</text>
<text x="1632.5" y="930" font-size="44" text-anchor="middle" >“0”</text>
<text x="1740" y="930" font-size="44" text-anchor="middle" >“0”</text>
<text x="1869.8" y="886" font-size="44" text-anchor="middle" >“1”</text>
<text x="1535.2" y="1003.3" font-size="44" text-anchor="middle" >“1”</text>
<text x="1632.5" y="1003.3" font-size="44" text-anchor="middle" >“0”</text>
<text x="1756.8" y="1003.3" font-size="44" text-anchor="middle" >“0”</text>
<text x="1869.8" y="1003.3" font-size="44" text-anchor="middle" >“0”</text>
<text x="1751.5" y="1033" font-size="31.4" >Threshold</text>
<text transform="translate(1966.5 747) rotate(-90)" font-size="35" text-anchor="middle" fill="#a22dba">375 nm</text>
<text transform="translate(1966.5 887.5) rotate(-90)" font-size="35" text-anchor="middle" fill="#1a1496">455 nm</text>
<text transform="translate(1396 816) rotate(-90) scale(1.012 1)" font-size="36" text-anchor="middle">Intensity (mW cm<tspan font-size="25.5" dy="-12">-2</tspan><tspan dy="12">)</tspan></text>
<text transform="translate(1393 1028) rotate(-90)" font-size="37.5" text-anchor="middle"><tspan class="it">I</tspan><tspan font-size="25" dy="8">D</tspan><tspan dy="-8"> (μA)</tspan></text><text x="1318.8" y="648.5" font-size="43.5" >e</text></g>
<g id="panel-f">
<rect x="1498.80" y="16.00" width="457.80" height="90.00" fill="#e17b38" />
<rect x="1498.80" y="108.50" width="457.80" height="91.00" fill="#f0d5cb" />
<rect x="1498.80" y="200.50" width="142.00" height="408.00" fill="#f7ebe6" />
<rect x="1640.80" y="200.50" width="315.80" height="51.00" fill="#f7ebe6" />
<rect x="1640.80" y="251.50" width="315.80" height="51.20" fill="#f0d5cb" />
<rect x="1640.80" y="302.70" width="315.80" height="51.30" fill="#f7ebe6" />
<rect x="1640.80" y="354.00" width="315.80" height="51.00" fill="#f0d5cb" />
<rect x="1640.80" y="405.00" width="315.80" height="51.30" fill="#f7ebe6" />
<rect x="1640.80" y="456.30" width="315.80" height="51.00" fill="#f0d5cb" />
<rect x="1640.80" y="507.30" width="315.80" height="51.50" fill="#f7ebe6" />
<rect x="1640.80" y="558.80" width="315.80" height="49.70" fill="#f0d5cb" />
<line x1="1498.80" y1="107.20" x2="1956.60" y2="107.20" stroke="#ffffff" stroke-width="3.2" />
<line x1="1498.80" y1="200.20" x2="1956.60" y2="200.20" stroke="#ffffff" stroke-width="1.6" />
<line x1="1640.80" y1="251.50" x2="1956.60" y2="251.50" stroke="#ffffff" stroke-width="1.6" />
<line x1="1640.80" y1="302.70" x2="1956.60" y2="302.70" stroke="#ffffff" stroke-width="1.6" />
<line x1="1640.80" y1="354.00" x2="1956.60" y2="354.00" stroke="#ffffff" stroke-width="1.6" />
<line x1="1498.80" y1="405.00" x2="1956.60" y2="405.00" stroke="#ffffff" stroke-width="1.6" />
<line x1="1640.80" y1="456.30" x2="1956.60" y2="456.30" stroke="#ffffff" stroke-width="1.6" />
<line x1="1640.80" y1="507.30" x2="1956.60" y2="507.30" stroke="#ffffff" stroke-width="1.6" />
<line x1="1640.80" y1="558.80" x2="1956.60" y2="558.80" stroke="#ffffff" stroke-width="1.6" />
<line x1="1640.80" y1="16.00" x2="1640.80" y2="608.50" stroke="#ffffff" stroke-width="1.8" />
<line x1="1832.60" y1="16.00" x2="1832.60" y2="608.50" stroke="#ffffff" stroke-width="1.8" />
<line x1="1736.60" y1="108.50" x2="1736.60" y2="608.50" stroke="#ffffff" stroke-width="1.8" />
<text x="1569.8" y="54.5" font-size="34.3" text-anchor="middle" fill="#fff" >Logic</text>
<text x="1569.8" y="94" font-size="34.3" text-anchor="middle" fill="#fff" >function</text>
<text x="1736.6999999999998" y="74.5" font-size="34.3" text-anchor="middle" fill="#fff" >Input</text>
<text x="1894.6" y="74.5" font-size="34.3" text-anchor="middle" fill="#fff" >Output</text>
<text x="1688.6999999999998" y="145.5" font-size="34.2" text-anchor="middle" >375</text>
<text x="1688.6999999999998" y="187" font-size="34.2" text-anchor="middle" >nm</text>
<text x="1784.6" y="145.5" font-size="34.2" text-anchor="middle" >455</text>
<text x="1784.6" y="187" font-size="34.2" text-anchor="middle" >nm</text>
<text x="1569.8" y="316" font-size="34.2" text-anchor="middle" >AND</text>
<text x="1569.8" y="521" font-size="34.2" text-anchor="middle" >OR</text>
<text x="1688.6999999999998" y="238.3" font-size="34.2" text-anchor="middle" >1</text>
<text x="1784.6" y="238.3" font-size="34.2" text-anchor="middle" >1</text>
<text x="1894.6" y="238.3" font-size="34.2" text-anchor="middle" >1</text>
<text x="1688.6999999999998" y="289.40000000000003" font-size="34.2" text-anchor="middle" >0</text>
<text x="1784.6" y="289.40000000000003" font-size="34.2" text-anchor="middle" >0</text>
<text x="1894.6" y="289.40000000000003" font-size="34.2" text-anchor="middle" >0</text>
<text x="1688.6999999999998" y="340.65000000000003" font-size="34.2" text-anchor="middle" >1</text>
<text x="1784.6" y="340.65000000000003" font-size="34.2" text-anchor="middle" >0</text>
<text x="1894.6" y="340.65000000000003" font-size="34.2" text-anchor="middle" >0</text>
<text x="1688.6999999999998" y="391.8" font-size="34.2" text-anchor="middle" >0</text>
<text x="1784.6" y="391.8" font-size="34.2" text-anchor="middle" >1</text>
<text x="1894.6" y="391.8" font-size="34.2" text-anchor="middle" >0</text>
<text x="1688.6999999999998" y="442.95" font-size="34.2" text-anchor="middle" >1</text>
<text x="1784.6" y="442.95" font-size="34.2" text-anchor="middle" >0</text>
<text x="1894.6" y="442.95" font-size="34.2" text-anchor="middle" >1</text>
<text x="1688.6999999999998" y="494.1" font-size="34.2" text-anchor="middle" >0</text>
<text x="1784.6" y="494.1" font-size="34.2" text-anchor="middle" >0</text>
<text x="1894.6" y="494.1" font-size="34.2" text-anchor="middle" >0</text>
<text x="1688.6999999999998" y="545.3499999999999" font-size="34.2" text-anchor="middle" >0</text>
<text x="1784.6" y="545.3499999999999" font-size="34.2" text-anchor="middle" >1</text>
<text x="1894.6" y="545.3499999999999" font-size="34.2" text-anchor="middle" >1</text>
<text x="1688.6999999999998" y="595.9499999999999" font-size="34.2" text-anchor="middle" >1</text>
<text x="1784.6" y="595.9499999999999" font-size="34.2" text-anchor="middle" >1</text>
<text x="1894.6" y="595.9499999999999" font-size="34.2" text-anchor="middle" >1</text>
<text x="1450" y="35.4" font-size="44" >f</text>
</g>
<g id="panel-g">
<rect x="65.00" y="1164.40" width="515.70" height="511.20" fill="#1f6e1c" />
<rect x="65.0" y="1164.4" width="515.7" height="511.1999999999998" filter="url(#gnoise)"/>
<g clip-path="url(#gclip)">
<g filter="url(#gb2)">
<circle cx="65" cy="1165" r="70" fill="#041c04" opacity="0.5"/>
<circle cx="580" cy="1165" r="70" fill="#041c04" opacity="0.5"/>
<circle cx="65" cy="1675" r="70" fill="#041c04" opacity="0.5"/>
<circle cx="580" cy="1675" r="70" fill="#041c04" opacity="0.5"/>
<ellipse cx="113.9" cy="1186.9" rx="50.9" ry="24.0" fill="#062806" opacity="0.55"/>
<ellipse cx="389.2" cy="1258.8" rx="26.9" ry="21.0" fill="#062806" opacity="0.5"/>
<ellipse cx="239.6" cy="1303.6" rx="32.9" ry="24.0" fill="#062806" opacity="0.4"/>
<ellipse cx="410.1" cy="1399.4" rx="26.9" ry="26.9" fill="#062806" opacity="0.45"/>
<ellipse cx="419.1" cy="1483.2" rx="24.0" ry="21.0" fill="#062806" opacity="0.45"/>
<ellipse cx="508.9" cy="1474.2" rx="24.0" ry="26.9" fill="#062806" opacity="0.35"/>
<ellipse cx="104.9" cy="1354.5" rx="29.9" ry="35.9" fill="#062806" opacity="0.35"/>
<ellipse cx="209.6" cy="1564.0" rx="35.9" ry="24.0" fill="#062806" opacity="0.3"/>
<ellipse cx="502.9" cy="1261.8" rx="18.0" ry="18.0" fill="#062806" opacity="0.4"/>
<ellipse cx="323.4" cy="1549.0" rx="29.9" ry="18.0" fill="#062806" opacity="0.3"/>
<ellipse cx="359.3" cy="1315.6" rx="50.9" ry="26.9" fill="#5ad24e" opacity="0.3"/>
<ellipse cx="544.8" cy="1285.7" rx="32.9" ry="44.9" fill="#5ad24e" opacity="0.3"/>
<ellipse cx="299.4" cy="1405.4" rx="38.9" ry="24.0" fill="#5ad24e" opacity="0.25"/>
<ellipse cx="526.9" cy="1393.4" rx="29.9" ry="24.0" fill="#5ad24e" opacity="0.25"/>
<ellipse cx="149.8" cy="1534.1" rx="29.9" ry="24.0" fill="#5ad24e" opacity="0.2"/>
<ellipse cx="269.5" cy="1357.5" rx="26.9" ry="21.0" fill="#5ad24e" opacity="0.25"/>
<ellipse cx="434.1" cy="1300.7" rx="24.0" ry="18.0" fill="#5ad24e" opacity="0.25"/>
</g>
<g filter="url(#gb1)" fill="#56fb3c">
<circle cx="164.7" cy="1659.8" r="13.0"/>
<circle cx="143.8" cy="1531.1" r="6.5"/>
<circle cx="197.7" cy="1215.4" r="4.5"/>
<circle cx="146.2" cy="1305.7" r="4.8"/>
<circle cx="92.3" cy="1282.1" r="3.6"/>
<circle cx="383.2" cy="1353.0" r="4.0"/>
<circle cx="461.0" cy="1363.5" r="5.2"/>
<circle cx="444.0" cy="1441.3" r="4.2"/>
<circle cx="458.0" cy="1306.6" r="4.0"/>
<circle cx="263.5" cy="1347.0" r="4.0"/>
<circle cx="320.4" cy="1427.8" r="2.8"/>
<circle cx="529.8" cy="1293.8" r="2.8"/>
<circle cx="532.2" cy="1465.3" r="2.8"/>
<circle cx="502.9" cy="1531.1" r="5.0"/>
<circle cx="310.8" cy="1620.9" r="4.8"/>
<circle cx="452.0" cy="1638.8" r="3.8"/>
<circle cx="394.6" cy="1638.8" r="2.4"/>
<circle cx="573.2" cy="1251.3" r="4.0"/>
<circle cx="562.8" cy="1294.7" r="3.5"/>
<circle cx="73.5" cy="1400.9" r="4.0"/>
<circle cx="74.4" cy="1423.4" r="3.0"/>
<circle cx="84.5" cy="1257.9" r="3.0"/>
<circle cx="176.7" cy="1406.9" r="3.0"/>
<circle cx="297.9" cy="1341.1" r="3.0"/>
<circle cx="348.8" cy="1471.2" r="4.0"/>
<circle cx="359.3" cy="1528.1" r="3.0"/>
<circle cx="163.2" cy="1580.5" r="3.0"/>
<circle cx="502.9" cy="1230.9" r="3.0"/>
<circle cx="129.4" cy="1263.8" r="4.0"/>
<circle cx="541.8" cy="1616.4" r="3.0"/>
<circle cx="230.6" cy="1207.9" r="2.2"/>
<circle cx="312.9" cy="1285.7" r="2.5"/>
<circle cx="339.8" cy="1269.2" r="2.5"/>
<circle cx="470.0" cy="1191.4" r="2.5"/>
<circle cx="250.0" cy="1348.5" r="2.5"/>
<circle cx="242.6" cy="1374.0" r="2.5"/>
<circle cx="197.7" cy="1385.9" r="2.5"/>
<circle cx="517.9" cy="1388.9" r="2.8"/>
<circle cx="157.3" cy="1457.8" r="2.5"/>
<circle cx="330.8" cy="1501.2" r="2.5"/>
<circle cx="238.1" cy="1650.8" r="3.0"/>
<circle cx="565.8" cy="1650.8" r="2.6"/>
<circle cx="573.2" cy="1408.4" r="3.0"/>
<circle cx="119.9" cy="1644.8" r="2.2"/>
<circle cx="528.4" cy="1549.0" r="2.6"/>
<circle cx="236.6" cy="1589.4" r="2.2"/>
<circle cx="280.0" cy="1324.6" r="2.6"/>
<circle cx="166.2" cy="1399.4" r="2.6"/>
<circle cx="502.9" cy="1374.0" r="2.4"/>
<circle cx="413.1" cy="1309.6" r="2.0"/>
<circle cx="82.4" cy="1318.6" r="1.6"/>
<circle cx="173.7" cy="1186.9" r="1.6"/>
<circle cx="499.9" cy="1287.2" r="2.4"/>
<path d="M452.0,1519.1 L468.5,1507.1 L488.0,1510.1 L498.4,1519.1 L490.9,1534.1 L474.5,1558.0 L468.5,1555.6 L485.0,1531.1 L476.0,1519.1 L458.0,1523.6 L455.0,1538.6 L468.5,1558.0 L440.1,1544.6" fill="none" stroke="#4cf03a" stroke-width="2.6" stroke-linejoin="round"/>
<path d="M474.5,1558.0 L493.9,1526.6" stroke="#4cf03a" stroke-width="3.5"/>
</g>
<path d="M101.4,1222.3 C102.4,1211.3 112.4,1204.3 122.4,1207.3 C132.4,1209.3 136.4,1218.3 133.4,1229.3 C129.4,1236.3 120.4,1238.3 112.4,1233.3 C106.4,1231.3 101.4,1229.3 101.4,1222.3 Z" fill="#020802"/>
<path d="M428.6,1502.2 C430.6,1493.2 442.6,1490.2 452.6,1494.2 C460.6,1498.2 464.6,1506.2 456.6,1513.2 C450.6,1518.2 438.6,1518.2 432.6,1513.2 C428.6,1509.2 427.6,1506.2 428.6,1502.2 Z" fill="#020802"/>
<circle cx="385.6" cy="1173.5" r="3" fill="#031003"/>
</g>
<rect x="402.00" y="1608.80" width="83.20" height="8.60" fill="#fff" />
<text x="397.5" y="1592.5" font-size="38.5" font-weight="bold" fill="#fff">150 <tspan font-family="'Liberation Serif','DejaVu Serif',serif" font-style="italic" font-weight="bold" font-size="42">μ</tspan><tspan font-family="'Liberation Serif','DejaVu Serif',serif" font-weight="bold" font-size="42">m</tspan></text>
<text x="10.3" y="1177.6" font-size="43" >g</text>
</g>
<g id="panel-h">
<rect x="735.20" y="1162.30" width="504.90" height="511.50" fill="url(#hbg)" />
<g clip-path="url(#hclip)">
<ellipse cx="802.8" cy="1498.8" rx="55" ry="60" fill="#58acf6" opacity="0.55" filter="url(#hb20)"/>
<ellipse cx="865.2" cy="1285.0" rx="30" ry="150" fill="#2a6fd8" opacity="0.55" filter="url(#hb20)"/>
<path d="M902.9,1368.8 L902.1,1439.0 L899.5,1478.0 L896.4,1517.0 L891.2,1556.0 L883.4,1597.6 L875.6,1634.0 L869.1,1678.2 L1053.7,1678.2 L1051.4,1634.0 L1048.8,1597.6 L1044.9,1556.0 L1042.3,1517.0 L1041.0,1478.0 L1038.4,1439.0 L1034.2,1368.8 Z" fill="#163a9e" opacity="0.8" filter="url(#hb8)" transform="translate(-8 0)"/>
<path d="M902.9,1368.8 L902.1,1439.0 L899.5,1478.0 L896.4,1517.0 L891.2,1556.0 L883.4,1597.6 L875.6,1634.0 L869.1,1678.2 L1053.7,1678.2 L1051.4,1634.0 L1048.8,1597.6 L1044.9,1556.0 L1042.3,1517.0 L1041.0,1478.0 L1038.4,1439.0 L1034.2,1368.8 Z" fill="#1a3fa8" opacity="0.75" filter="url(#hb3)" transform="translate(-5 0)"/>
<path d="M902.9,1368.8 L902.1,1439.0 L899.5,1478.0 L896.4,1517.0 L891.2,1556.0 L883.4,1597.6 L875.6,1634.0 L869.1,1678.2 L1053.7,1678.2 L1051.4,1634.0 L1048.8,1597.6 L1044.9,1556.0 L1042.3,1517.0 L1041.0,1478.0 L1038.4,1439.0 L1034.2,1368.8 Z" fill="url(#armg)"/>
<path d="M965.3,1400.0 L971.8,1535.2" stroke="#b9a28c" stroke-width="9" opacity="0.55" filter="url(#hb3)"/>
<ellipse cx="943.2" cy="1478.0" rx="22" ry="70" fill="#e3d2be" opacity="0.6" filter="url(#hb8)"/>
<path d="M912.0,1155.0 C873.9,1159.8 899.7,1176.2 896.4,1183.6 C893.2,1191.0 892.5,1191.0 892.5,1199.2 C892.5,1207.4 894.9,1220.9 896.4,1233.0 C897.9,1245.1 900.5,1260.7 901.6,1272.0 C902.7,1283.3 902.3,1289.8 902.9,1300.6 C903.6,1311.4 906.2,1325.3 905.5,1337.0 C904.9,1348.7 900.3,1360.6 899.0,1370.8 C897.7,1381.0 895.5,1394.1 897.7,1398.1 C899.9,1402.1 901.0,1394.7 912.0,1394.7 C923.1,1394.7 946.7,1396.9 964.0,1398.1 C981.3,1399.3 1002.4,1401.1 1016.0,1402.0 C1029.7,1403.0 1041.9,1407.3 1045.9,1403.8 C1049.9,1400.4 1040.1,1392.3 1039.9,1381.2 C1039.7,1370.1 1041.7,1350.4 1044.6,1337.0 C1047.6,1323.6 1052.4,1312.3 1057.6,1300.6 C1062.8,1288.9 1069.7,1276.8 1075.8,1266.8 C1081.9,1256.8 1088.8,1249.5 1094.0,1240.8 C1099.2,1232.1 1103.1,1223.9 1107.0,1214.8 C1110.9,1205.7 1114.4,1196.2 1117.4,1186.2 C1120.4,1176.2 1159.5,1160.2 1125.2,1155.0 C1091.0,1149.8 950.1,1150.2 912.0,1155.0 Z" fill="#1a42a8" opacity="0.7" filter="url(#hb8)" transform="translate(-6 3)"/>
<path d="M912.0,1155.0 C873.9,1159.8 899.7,1176.2 896.4,1183.6 C893.2,1191.0 892.5,1191.0 892.5,1199.2 C892.5,1207.4 894.9,1220.9 896.4,1233.0 C897.9,1245.1 900.5,1260.7 901.6,1272.0 C902.7,1283.3 902.3,1289.8 902.9,1300.6 C903.6,1311.4 906.2,1325.3 905.5,1337.0 C904.9,1348.7 900.3,1360.6 899.0,1370.8 C897.7,1381.0 895.5,1394.1 897.7,1398.1 C899.9,1402.1 901.0,1394.7 912.0,1394.7 C923.1,1394.7 946.7,1396.9 964.0,1398.1 C981.3,1399.3 1002.4,1401.1 1016.0,1402.0 C1029.7,1403.0 1041.9,1407.3 1045.9,1403.8 C1049.9,1400.4 1040.1,1392.3 1039.9,1381.2 C1039.7,1370.1 1041.7,1350.4 1044.6,1337.0 C1047.6,1323.6 1052.4,1312.3 1057.6,1300.6 C1062.8,1288.9 1069.7,1276.8 1075.8,1266.8 C1081.9,1256.8 1088.8,1249.5 1094.0,1240.8 C1099.2,1232.1 1103.1,1223.9 1107.0,1214.8 C1110.9,1205.7 1114.4,1196.2 1117.4,1186.2 C1120.4,1176.2 1159.5,1160.2 1125.2,1155.0 C1091.0,1149.8 950.1,1150.2 912.0,1155.0 Z" fill="url(#gloveg)"/>
<path d="M945.8,1170.6 Q964.0,1214.8 990.0,1213.5 Q1036.8,1194.0 1075.8,1183.6" stroke="#2347b4" stroke-width="7" fill="none" opacity="0.8" filter="url(#hb3)"/>
<path d="M969.2,1165.4 L974.4,1207.0 M1016.0,1162.8 L1005.6,1204.4 M1060.2,1162.8 L1044.6,1194.0" stroke="#2a50bc" stroke-width="5" fill="none" opacity="0.7" filter="url(#hb3)"/>
<ellipse cx="1005.6" cy="1188.8" rx="55" ry="20" fill="#2c50c4" opacity="0.45" filter="url(#hb8)"/>
<path d="M906.8,1285.0 Q951.0,1277.2 990.0,1240.8" stroke="#6fa0f6" stroke-width="9" fill="none" opacity="0.6" filter="url(#hb3)"/>
<path d="M964.0,1272.0 L990.0,1311.0 L984.8,1357.8 M990.0,1311.0 L1023.8,1326.6 M909.4,1311.0 L943.2,1337.0 L1005.6,1355.2" stroke="#3560cc" stroke-width="3" fill="none" opacity="0.55" filter="url(#hb1)"/>
<ellipse cx="1003.0" cy="1279.8" rx="14" ry="30" fill="#3a64d0" opacity="0.45" filter="url(#hb8)"/>
<ellipse cx="1055.0" cy="1240.8" rx="35" ry="45" fill="#6a9cf6" opacity="0.45" filter="url(#hb8)"/>
<ellipse cx="938.0" cy="1220.0" rx="30" ry="40" fill="#5f92f2" opacity="0.4" filter="url(#hb8)"/>
<path d="M897.7,1398.1 Q964.0,1392.9 1045.9,1403.8" stroke="#3864d4" stroke-width="3" fill="none" opacity="0.8"/>
<rect x="952.3" y="1511.3" width="16" height="35" fill="#f0e2d6" opacity="0.75"/>
<rect x="938.0" y="1597.6" width="32" height="36" fill="#e6d6c4" opacity="0.3"/>
<path d="M870.9,1550.3 L970.5,1553.4 L970.5,1592.4 L866.5,1586.2 Z" fill="#e3ebf4"/>
<path d="M870.4,1554.3 L970.5,1557.7" stroke="#c4d0e0" stroke-width="0.8"/>
<path d="M870.4,1558.3 L970.5,1562.1" stroke="#c4d0e0" stroke-width="0.8"/>
<path d="M870.4,1562.2 L970.5,1566.4" stroke="#c4d0e0" stroke-width="0.8"/>
<path d="M870.4,1566.2 L970.5,1570.7" stroke="#c4d0e0" stroke-width="0.8"/>
<path d="M870.4,1570.2 L970.5,1575.1" stroke="#c4d0e0" stroke-width="0.8"/>
<path d="M870.4,1574.2 L970.5,1579.4" stroke="#c4d0e0" stroke-width="0.8"/>
<path d="M870.4,1578.2 L970.5,1583.7" stroke="#c4d0e0" stroke-width="0.8"/>
<path d="M870.4,1582.2 L970.5,1588.1" stroke="#c4d0e0" stroke-width="0.8"/>
<rect x="969.2" y="1548.2" width="38" height="51" fill="#e9dfc8" opacity="0.85"/>
<path d="M972.2,1555.2 H982.2 M994.2,1555.2 H1004.2" stroke="#ece23c" stroke-width="2.2"/>
<path d="M972.2,1563.4 H982.2 M994.2,1563.4 H1004.2" stroke="#ece23c" stroke-width="2.2"/>
<path d="M972.2,1571.6 H982.2 M994.2,1571.6 H1004.2" stroke="#ece23c" stroke-width="2.2"/>
<path d="M972.2,1579.8 H982.2 M994.2,1579.8 H1004.2" stroke="#ece23c" stroke-width="2.2"/>
<path d="M972.2,1588.0 H982.2 M994.2,1588.0 H1004.2" stroke="#ece23c" stroke-width="2.2"/>
<path d="M982.2,1555.2 V1588.2 M994.2,1555.2 V1588.2 M982.2,1572.2 H994.2" stroke="#d8c84a" stroke-width="1.2" fill="none"/>
</g>
<rect x="754.20" y="1609.00" width="83.80" height="8.00" fill="#fff" />
<text x="758.4" y="1603.6" font-size="39.4" font-weight="bold" fill="#fff">4 cm</text>
<rect x="1051.10" y="1483.20" width="189.00" height="190.60" fill="url(#insg)" />
<g clip-path="url(#insclip)">
<path d="M1141.7,1623.2 L1144.2,1623.2 L1167.6,1673.6 L1151.4,1673.6 Z" fill="#8f7f58"/>
<path d="M1142.8,1624.7 L1143.7,1624.7 L1161.2,1673.6 L1157.2,1673.6 Z" fill="#d2caa8"/>
<path d="M1143.7,1624.7 L1144.4,1624.7 L1167.2,1673.6 L1163.5,1673.6 Z" fill="#a89868"/>
<path d="M1178.5,1511.9 L1179.6,1516.6 L1176.2,1532.1 L1169.3,1551.6 L1163.5,1570.1 L1155.5,1593.1 L1148.6,1613.8 L1141.7,1624.4 L1115.4,1631.3 L1111.7,1626.4 L1107.7,1608.0 L1116.3,1590.8 L1127.9,1570.1 L1140.5,1542.4 L1150.9,1524.0 L1165.8,1513.9 Z" fill="#d6d6cc" stroke="#f2f2ee" stroke-width="1.3" opacity="0.92"/>
<path d="M1115.4,1631.3 L1141.7,1624.4 L1139.4,1616.1 L1112.3,1621.8 Z" fill="#e8e8e4" opacity="0.7"/>
<path d="M1177.3,1527.7 L1152.6,1530.0 L1147.4,1536.1 L1154.3,1551.6 L1158.3,1558.6" fill="none" stroke="#a8861a" stroke-width="3.2" stroke-linejoin="miter"/>
<path d="M1173.0,1538.8 L1159.5,1540.7 L1156.0,1545.9 L1160.1,1557.4" fill="none" stroke="#d8b83a" stroke-width="3.0" stroke-linejoin="miter"/>
<path d="M1169.3,1551.6 L1165.8,1552.8 L1164.7,1563.2 L1161.2,1565.5" fill="none" stroke="#d8b83a" stroke-width="2.6" stroke-linejoin="miter"/>
<path d="M1141.7,1542.4 L1146.3,1556.3 L1152.0,1560.9 L1162.4,1562.0" fill="none" stroke="#7e6414" stroke-width="2.4" stroke-linejoin="miter"/>
<path d="M1135.9,1556.3 L1140.5,1565.5 L1148.6,1566.6 L1155.5,1573.5 L1161.2,1573.5" fill="none" stroke="#a8861a" stroke-width="2.6" stroke-linejoin="miter"/>
<path d="M1130.2,1565.5 L1134.8,1573.5 L1132.5,1581.6 L1118.6,1591.9" fill="none" stroke="#7e6414" stroke-width="3.0" stroke-linejoin="miter"/>
<path d="M1142.8,1570.1 L1140.5,1581.6 L1146.3,1593.1 L1148.6,1600.0" fill="none" stroke="#a8861a" stroke-width="3.4" stroke-linejoin="miter"/>
<path d="M1152.0,1570.1 L1148.6,1581.6 L1154.3,1591.9" fill="none" stroke="#7e6414" stroke-width="3.0" stroke-linejoin="miter"/>
<path d="M1123.3,1581.6 L1132.5,1585.0 L1137.1,1591.9" fill="none" stroke="#7e6414" stroke-width="2.6" stroke-linejoin="miter"/>
<path d="M1112.3,1606.0 L1139.4,1594.2 L1145.7,1598.8 L1149.1,1606.9" fill="none" stroke="#a8861a" stroke-width="3.6" stroke-linejoin="miter"/>
<path d="M1115.0,1616.7 L1145.1,1607.1 L1149.1,1609.4" fill="none" stroke="#d8b83a" stroke-width="3.6" stroke-linejoin="miter"/>
<path d="M1160.1,1570.1 L1155.5,1579.3 L1153.2,1588.5" fill="none" stroke="#a8861a" stroke-width="2.4" stroke-linejoin="miter"/>
</g>
<rect x="1061.10" y="1528.00" width="52.70" height="8.10" fill="#fff" />
<text x="1050" y="1519.4" font-size="38.6" font-weight="bold" fill="#fff">1 cm</text>
<text x="631.5" y="1169.3" font-size="43" >h</text>
</g>
<g id="panel-i">
<path d="M1431.9,1556.3 L1435.9,1271.2 L1439.0,1323.8 L1443.2,1390.4 L1448.4,1466.4 L1452.6,1519.1 L1456.8,1557.4 L1461.4,1264.0 L1464.8,1318.7 L1469.4,1388.0 L1475.0,1467.0 L1479.6,1521.9 L1484.1,1561.7 L1488.1,1264.0 L1491.8,1319.5 L1496.8,1389.6 L1503.0,1469.7 L1508.0,1525.3 L1512.9,1565.7 L1516.5,1264.7 L1520.3,1320.0 L1525.3,1389.9 L1531.6,1469.7 L1536.7,1525.1 L1541.7,1565.3 L1545.7,1263.3 L1549.5,1319.0 L1554.6,1389.5 L1561.0,1470.0 L1566.1,1525.9 L1571.2,1566.4 L1575.2,1261.1 L1579.0,1316.6 L1584.1,1386.7 L1590.5,1466.8 L1595.6,1522.4 L1600.8,1562.8 L1605.1,1258.6 L1609.0,1313.9 L1614.3,1383.8 L1620.8,1463.6 L1626.1,1519.0 L1631.4,1559.2 L1635.3,1254.3 L1639.3,1309.9 L1644.5,1380.2 L1651.1,1460.5 L1656.3,1516.2 L1661.6,1556.7 L1665.6,1250.7 L1669.6,1307.1 L1675.0,1378.4 L1681.8,1459.8 L1687.2,1516.4 L1692.6,1557.4 L1696.5,1250.7 L1700.6,1306.6 L1706.0,1377.3 L1712.7,1458.1 L1718.1,1514.2 L1723.5,1554.9 L1727.5,1248.2 L1731.6,1305.7 L1737.2,1378.4 L1744.1,1461.5 L1749.7,1519.2 L1755.2,1561.0 L1759.2,1252.5 L1763.3,1308.7 L1768.9,1379.9 L1775.8,1461.1 L1781.3,1517.5 L1786.9,1558.5 L1790.8,1250.0 L1795.2,1308.0 L1800.9,1381.4 L1808.1,1465.2 L1813.9,1523.4 L1819.6,1565.7 L1824.0,1255.7 L1828.3,1314.2 L1834.2,1388.1 L1841.5,1472.5 L1847.3,1531.1 L1853.1,1573.6 L1857.1,1261.1 L1861.0,1314.8 L1866.3,1382.7 L1872.8,1460.2 L1878.1,1514.0 L1883.4,1553.1 L1887.3,1242.8 L1891.6,1300.4 L1897.3,1373.3 L1904.4,1456.6 L1910.1,1514.4 L1915.8,1556.3 L1920.1,1244.9 L1924.1,1299.7 L1929.4,1369.0 L1936.1,1448.2 L1941.4,1503.1 L1946.7,1543.0" fill="none" stroke="#b8407a" stroke-width="5.2" stroke-linejoin="round" stroke-linecap="round"/>
<rect x="1415.40" y="1176.50" width="546.80" height="455.90" fill="none" stroke="#000" stroke-width="1.8" />
<line x1="1407.90" y1="1556.70" x2="1415.40" y2="1556.70" stroke="#000" stroke-width="1.6" />
<text x="1399.5" y="1568.2" font-size="32.3" text-anchor="end" >0</text>
<line x1="1407.90" y1="1448.10" x2="1415.40" y2="1448.10" stroke="#000" stroke-width="1.6" />
<text x="1399.5" y="1459.6000000000001" font-size="32.3" text-anchor="end" >10</text>
<line x1="1407.90" y1="1339.50" x2="1415.40" y2="1339.50" stroke="#000" stroke-width="1.6" />
<text x="1399.5" y="1351.0" font-size="32.3" text-anchor="end" >20</text>
<line x1="1407.90" y1="1230.90" x2="1415.40" y2="1230.90" stroke="#000" stroke-width="1.6" />
<text x="1399.5" y="1242.4" font-size="32.3" text-anchor="end" >30</text>
<line x1="1431.90" y1="1632.40" x2="1431.90" y2="1639.90" stroke="#000" stroke-width="1.6" />
<text x="1431.9" y="1683.2" font-size="32.3" text-anchor="middle" >0</text>
<line x1="1537.96" y1="1632.40" x2="1537.96" y2="1639.90" stroke="#000" stroke-width="1.6" />
<text x="1537.96" y="1683.2" font-size="32.3" text-anchor="middle" >500</text>
<line x1="1644.02" y1="1632.40" x2="1644.02" y2="1639.90" stroke="#000" stroke-width="1.6" />
<text x="1644.02" y="1683.2" font-size="32.3" text-anchor="middle" >1000</text>
<line x1="1750.08" y1="1632.40" x2="1750.08" y2="1639.90" stroke="#000" stroke-width="1.6" />
<text x="1750.08" y="1683.2" font-size="32.3" text-anchor="middle" >1500</text>
<line x1="1856.14" y1="1632.40" x2="1856.14" y2="1639.90" stroke="#000" stroke-width="1.6" />
<text x="1856.14" y="1683.2" font-size="32.3" text-anchor="middle" >2000</text>
<line x1="1962.20" y1="1632.40" x2="1962.20" y2="1639.90" stroke="#000" stroke-width="1.6" />
<text x="1962.2" y="1683.2" font-size="32.3" text-anchor="middle" >2500</text>
<line x1="1484.93" y1="1632.40" x2="1484.93" y2="1636.40" stroke="#000" stroke-width="1.5" />
<line x1="1590.99" y1="1632.40" x2="1590.99" y2="1636.40" stroke="#000" stroke-width="1.5" />
<line x1="1697.05" y1="1632.40" x2="1697.05" y2="1636.40" stroke="#000" stroke-width="1.5" />
<line x1="1803.11" y1="1632.40" x2="1803.11" y2="1636.40" stroke="#000" stroke-width="1.5" />
<line x1="1909.17" y1="1632.40" x2="1909.17" y2="1636.40" stroke="#000" stroke-width="1.5" />
<text x="1688.5" y="1726.3" font-size="41" text-anchor="middle" >Time (s)</text>
<text transform="translate(1348.5 1393) rotate(-90)" font-size="39.5" text-anchor="middle">Δ<tspan class="it">I</tspan><tspan font-size="27" dy="9">D</tspan><tspan dy="-9"> (μA)</tspan></text>
<text x="1295.2" y="1169" font-size="43" >i</text>
</g>
</svg>
</body></html>
